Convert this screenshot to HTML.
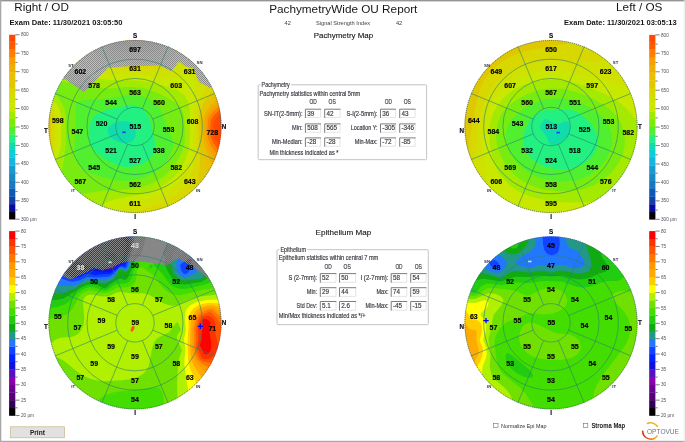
<!DOCTYPE html><html><head><meta charset="utf-8"><title>PachymetryWide OU Report</title><style>html,body{margin:0;padding:0;background:#fff;width:685px;height:442px;overflow:hidden}svg{display:block}.st text{stroke:#383840;stroke-width:0.16}</style></head><body>
<svg width="685" height="442" viewBox="0 0 685 442">
<defs><clipPath id="clip"><circle r="86.50"/></clipPath>
<mask id="cmask" maskUnits="userSpaceOnUse" x="-100" y="-100" width="200" height="200"><circle r="86.50" fill="#fff"/></mask>
<clipPath id="clip_tl"><circle cx="135" cy="126.5" r="86.50"/></clipPath>
<clipPath id="clip_tr"><circle cx="551" cy="126.5" r="86.50"/></clipPath>
<clipPath id="clip_bl"><circle cx="135" cy="322.8" r="86.50"/></clipPath>
<clipPath id="clip_br"><circle cx="551" cy="322.8" r="86.50"/></clipPath>
<pattern id="hd" width="2" height="2" patternUnits="userSpaceOnUse"><rect width="1" height="1" fill="#8a8a8a"/><rect x="1" y="1" width="1" height="1" fill="#8a8a8a"/></pattern>
<pattern id="hl" width="2" height="2" patternUnits="userSpaceOnUse"><rect width="1" height="1" fill="#b0b0b0" fill-opacity="0.7"/><rect x="1" y="1" width="1" height="1" fill="#b0b0b0" fill-opacity="0.7"/></pattern>
</defs>
<rect width="685" height="442" fill="#fff"/>
<rect x="0" y="0" width="685" height="1.4" fill="#959595"/>
<rect x="0" y="0" width="1.3" height="442" fill="#a8a8a8"/>
<rect x="0" y="440.8" width="685" height="1.2" fill="#a8a8a8"/>
<rect x="683.8" y="0" width="0.8" height="442" fill="#e4e4e4"/>
<g font-family="'Liberation Sans', Arial, sans-serif" fill="#151515">
<text x="14.3" y="10.9" font-size="11.8" textLength="54.6" lengthAdjust="spacingAndGlyphs">Right / OD</text>
<text x="616.1" y="10.9" font-size="11.8" textLength="46.3" lengthAdjust="spacingAndGlyphs">Left / OS</text>
<text x="269.2" y="13.4" font-size="11.8" textLength="148.2" lengthAdjust="spacingAndGlyphs">PachymetryWide OU Report</text>
<text x="9.6" y="24.8" font-size="7.1" font-weight="bold" textLength="112.8" lengthAdjust="spacingAndGlyphs">Exam Date: 11/30/2021 03:05:50</text>
<text x="564" y="24.8" font-size="7.1" font-weight="bold" textLength="112.6" lengthAdjust="spacingAndGlyphs">Exam Date: 11/30/2021 03:05:13</text>
<g font-size="5.6" fill="#404040"><text x="287.7" y="24.7" text-anchor="middle">42</text><text x="316" y="24.7" textLength="54.2" lengthAdjust="spacingAndGlyphs">Signal Strength Index</text><text x="399" y="24.7" text-anchor="middle">42</text></g>
<text x="313.7" y="38.4" font-size="8" stroke="#151515" stroke-width="0.12" textLength="59.5" lengthAdjust="spacingAndGlyphs">Pachymetry Map</text>
<text x="315.6" y="235.1" font-size="8" stroke="#151515" stroke-width="0.12" textLength="55.6" lengthAdjust="spacingAndGlyphs">Epithelium Map</text>
</g>
<g>
<rect x="9.10" y="211.82" width="6.2" height="7.68" fill="#000000"/>
<rect x="9.10" y="204.08" width="6.2" height="8.05" fill="#0a0aa0"/>
<rect x="9.10" y="196.33" width="6.2" height="8.05" fill="#1040a8"/>
<rect x="9.10" y="188.58" width="6.2" height="8.05" fill="#1058b8"/>
<rect x="9.10" y="180.83" width="6.2" height="8.05" fill="#1878c0"/>
<rect x="9.10" y="173.09" width="6.2" height="8.05" fill="#1a88c8"/>
<rect x="9.10" y="165.34" width="6.2" height="8.05" fill="#1a9ad0"/>
<rect x="9.10" y="157.59" width="6.2" height="8.05" fill="#1ab4e0"/>
<rect x="9.10" y="149.85" width="6.2" height="8.05" fill="#11ccdd"/>
<rect x="9.10" y="142.10" width="6.2" height="8.05" fill="#11ddaa"/>
<rect x="9.10" y="134.35" width="6.2" height="8.05" fill="#22f080"/>
<rect x="9.10" y="126.61" width="6.2" height="8.05" fill="#50f030"/>
<rect x="9.10" y="118.86" width="6.2" height="8.05" fill="#78ec10"/>
<rect x="9.10" y="111.11" width="6.2" height="8.05" fill="#a4ea00"/>
<rect x="9.10" y="103.37" width="6.2" height="8.05" fill="#c8e800"/>
<rect x="9.10" y="95.62" width="6.2" height="8.05" fill="#d0e000"/>
<rect x="9.10" y="87.87" width="6.2" height="8.05" fill="#d8d800"/>
<rect x="9.10" y="80.12" width="6.2" height="8.05" fill="#e0c800"/>
<rect x="9.10" y="72.38" width="6.2" height="8.05" fill="#e8c000"/>
<rect x="9.10" y="64.63" width="6.2" height="8.05" fill="#eeb000"/>
<rect x="9.10" y="56.88" width="6.2" height="8.05" fill="#f5a000"/>
<rect x="9.10" y="49.14" width="6.2" height="8.05" fill="#ff8000"/>
<rect x="9.10" y="41.39" width="6.2" height="8.05" fill="#ff5a00"/>
<rect x="9.10" y="34.75" width="6.2" height="6.94" fill="#ff4800"/>
<line x1="15.30" y1="34.75" x2="19.60" y2="34.75" stroke="#606060" stroke-width="0.8"/>
<text x="20.90" y="36.35" font-family="'Liberation Sans', Arial, sans-serif" font-size="4.7" fill="#505060">800</text>
<line x1="15.30" y1="43.97" x2="17.60" y2="43.97" stroke="#606060" stroke-width="0.8"/>
<line x1="15.30" y1="53.20" x2="19.60" y2="53.20" stroke="#606060" stroke-width="0.8"/>
<text x="20.90" y="54.80" font-family="'Liberation Sans', Arial, sans-serif" font-size="4.7" fill="#505060">750</text>
<line x1="15.30" y1="62.42" x2="17.60" y2="62.42" stroke="#606060" stroke-width="0.8"/>
<line x1="15.30" y1="71.64" x2="19.60" y2="71.64" stroke="#606060" stroke-width="0.8"/>
<text x="20.90" y="73.24" font-family="'Liberation Sans', Arial, sans-serif" font-size="4.7" fill="#505060">700</text>
<line x1="15.30" y1="80.86" x2="17.60" y2="80.86" stroke="#606060" stroke-width="0.8"/>
<line x1="15.30" y1="90.08" x2="19.60" y2="90.08" stroke="#606060" stroke-width="0.8"/>
<text x="20.90" y="91.68" font-family="'Liberation Sans', Arial, sans-serif" font-size="4.7" fill="#505060">650</text>
<line x1="15.30" y1="99.31" x2="17.60" y2="99.31" stroke="#606060" stroke-width="0.8"/>
<line x1="15.30" y1="108.53" x2="19.60" y2="108.53" stroke="#606060" stroke-width="0.8"/>
<text x="20.90" y="110.13" font-family="'Liberation Sans', Arial, sans-serif" font-size="4.7" fill="#505060">600</text>
<line x1="15.30" y1="117.75" x2="17.60" y2="117.75" stroke="#606060" stroke-width="0.8"/>
<line x1="15.30" y1="126.97" x2="19.60" y2="126.97" stroke="#606060" stroke-width="0.8"/>
<text x="20.90" y="128.57" font-family="'Liberation Sans', Arial, sans-serif" font-size="4.7" fill="#505060">550</text>
<line x1="15.30" y1="136.20" x2="17.60" y2="136.20" stroke="#606060" stroke-width="0.8"/>
<line x1="15.30" y1="145.42" x2="19.60" y2="145.42" stroke="#606060" stroke-width="0.8"/>
<text x="20.90" y="147.02" font-family="'Liberation Sans', Arial, sans-serif" font-size="4.7" fill="#505060">500</text>
<line x1="15.30" y1="154.64" x2="17.60" y2="154.64" stroke="#606060" stroke-width="0.8"/>
<line x1="15.30" y1="163.86" x2="19.60" y2="163.86" stroke="#606060" stroke-width="0.8"/>
<text x="20.90" y="165.46" font-family="'Liberation Sans', Arial, sans-serif" font-size="4.7" fill="#505060">450</text>
<line x1="15.30" y1="173.09" x2="17.60" y2="173.09" stroke="#606060" stroke-width="0.8"/>
<line x1="15.30" y1="182.31" x2="19.60" y2="182.31" stroke="#606060" stroke-width="0.8"/>
<text x="20.90" y="183.91" font-family="'Liberation Sans', Arial, sans-serif" font-size="4.7" fill="#505060">400</text>
<line x1="15.30" y1="191.53" x2="17.60" y2="191.53" stroke="#606060" stroke-width="0.8"/>
<line x1="15.30" y1="200.75" x2="19.60" y2="200.75" stroke="#606060" stroke-width="0.8"/>
<text x="20.90" y="202.35" font-family="'Liberation Sans', Arial, sans-serif" font-size="4.7" fill="#505060">350</text>
<line x1="15.30" y1="209.98" x2="17.60" y2="209.98" stroke="#606060" stroke-width="0.8"/>
<line x1="15.30" y1="219.20" x2="19.60" y2="219.20" stroke="#606060" stroke-width="0.8"/>
<text x="20.90" y="220.80" font-family="'Liberation Sans', Arial, sans-serif" font-size="4.7" fill="#505060">300 µm</text>
</g>
<g>
<rect x="649.20" y="211.92" width="6.2" height="7.68" fill="#000000"/>
<rect x="649.20" y="204.18" width="6.2" height="8.04" fill="#0a0aa0"/>
<rect x="649.20" y="196.43" width="6.2" height="8.04" fill="#1040a8"/>
<rect x="649.20" y="188.69" width="6.2" height="8.04" fill="#1058b8"/>
<rect x="649.20" y="180.94" width="6.2" height="8.04" fill="#1878c0"/>
<rect x="649.20" y="173.20" width="6.2" height="8.04" fill="#1a88c8"/>
<rect x="649.20" y="165.46" width="6.2" height="8.04" fill="#1a9ad0"/>
<rect x="649.20" y="157.71" width="6.2" height="8.04" fill="#1ab4e0"/>
<rect x="649.20" y="149.97" width="6.2" height="8.04" fill="#11ccdd"/>
<rect x="649.20" y="142.22" width="6.2" height="8.04" fill="#11ddaa"/>
<rect x="649.20" y="134.48" width="6.2" height="8.04" fill="#22f080"/>
<rect x="649.20" y="126.73" width="6.2" height="8.04" fill="#50f030"/>
<rect x="649.20" y="118.99" width="6.2" height="8.04" fill="#78ec10"/>
<rect x="649.20" y="111.24" width="6.2" height="8.04" fill="#a4ea00"/>
<rect x="649.20" y="103.50" width="6.2" height="8.04" fill="#c8e800"/>
<rect x="649.20" y="95.75" width="6.2" height="8.04" fill="#d0e000"/>
<rect x="649.20" y="88.01" width="6.2" height="8.04" fill="#d8d800"/>
<rect x="649.20" y="80.26" width="6.2" height="8.04" fill="#e0c800"/>
<rect x="649.20" y="72.52" width="6.2" height="8.04" fill="#e8c000"/>
<rect x="649.20" y="64.77" width="6.2" height="8.04" fill="#eeb000"/>
<rect x="649.20" y="57.03" width="6.2" height="8.04" fill="#f5a000"/>
<rect x="649.20" y="49.28" width="6.2" height="8.04" fill="#ff8000"/>
<rect x="649.20" y="41.54" width="6.2" height="8.04" fill="#ff5a00"/>
<rect x="649.20" y="34.90" width="6.2" height="6.94" fill="#ff4800"/>
<line x1="655.40" y1="34.90" x2="659.70" y2="34.90" stroke="#606060" stroke-width="0.8"/>
<text x="661.00" y="36.50" font-family="'Liberation Sans', Arial, sans-serif" font-size="4.7" fill="#505060">800</text>
<line x1="655.40" y1="44.12" x2="657.70" y2="44.12" stroke="#606060" stroke-width="0.8"/>
<line x1="655.40" y1="53.34" x2="659.70" y2="53.34" stroke="#606060" stroke-width="0.8"/>
<text x="661.00" y="54.94" font-family="'Liberation Sans', Arial, sans-serif" font-size="4.7" fill="#505060">750</text>
<line x1="655.40" y1="62.56" x2="657.70" y2="62.56" stroke="#606060" stroke-width="0.8"/>
<line x1="655.40" y1="71.78" x2="659.70" y2="71.78" stroke="#606060" stroke-width="0.8"/>
<text x="661.00" y="73.38" font-family="'Liberation Sans', Arial, sans-serif" font-size="4.7" fill="#505060">700</text>
<line x1="655.40" y1="81.00" x2="657.70" y2="81.00" stroke="#606060" stroke-width="0.8"/>
<line x1="655.40" y1="90.22" x2="659.70" y2="90.22" stroke="#606060" stroke-width="0.8"/>
<text x="661.00" y="91.82" font-family="'Liberation Sans', Arial, sans-serif" font-size="4.7" fill="#505060">650</text>
<line x1="655.40" y1="99.44" x2="657.70" y2="99.44" stroke="#606060" stroke-width="0.8"/>
<line x1="655.40" y1="108.66" x2="659.70" y2="108.66" stroke="#606060" stroke-width="0.8"/>
<text x="661.00" y="110.26" font-family="'Liberation Sans', Arial, sans-serif" font-size="4.7" fill="#505060">600</text>
<line x1="655.40" y1="117.88" x2="657.70" y2="117.88" stroke="#606060" stroke-width="0.8"/>
<line x1="655.40" y1="127.10" x2="659.70" y2="127.10" stroke="#606060" stroke-width="0.8"/>
<text x="661.00" y="128.70" font-family="'Liberation Sans', Arial, sans-serif" font-size="4.7" fill="#505060">550</text>
<line x1="655.40" y1="136.32" x2="657.70" y2="136.32" stroke="#606060" stroke-width="0.8"/>
<line x1="655.40" y1="145.54" x2="659.70" y2="145.54" stroke="#606060" stroke-width="0.8"/>
<text x="661.00" y="147.14" font-family="'Liberation Sans', Arial, sans-serif" font-size="4.7" fill="#505060">500</text>
<line x1="655.40" y1="154.76" x2="657.70" y2="154.76" stroke="#606060" stroke-width="0.8"/>
<line x1="655.40" y1="163.98" x2="659.70" y2="163.98" stroke="#606060" stroke-width="0.8"/>
<text x="661.00" y="165.58" font-family="'Liberation Sans', Arial, sans-serif" font-size="4.7" fill="#505060">450</text>
<line x1="655.40" y1="173.20" x2="657.70" y2="173.20" stroke="#606060" stroke-width="0.8"/>
<line x1="655.40" y1="182.42" x2="659.70" y2="182.42" stroke="#606060" stroke-width="0.8"/>
<text x="661.00" y="184.02" font-family="'Liberation Sans', Arial, sans-serif" font-size="4.7" fill="#505060">400</text>
<line x1="655.40" y1="191.64" x2="657.70" y2="191.64" stroke="#606060" stroke-width="0.8"/>
<line x1="655.40" y1="200.86" x2="659.70" y2="200.86" stroke="#606060" stroke-width="0.8"/>
<text x="661.00" y="202.46" font-family="'Liberation Sans', Arial, sans-serif" font-size="4.7" fill="#505060">350</text>
<line x1="655.40" y1="210.08" x2="657.70" y2="210.08" stroke="#606060" stroke-width="0.8"/>
<line x1="655.40" y1="219.30" x2="659.70" y2="219.30" stroke="#606060" stroke-width="0.8"/>
<text x="661.00" y="220.90" font-family="'Liberation Sans', Arial, sans-serif" font-size="4.7" fill="#505060">300 µm</text>
</g>
<g>
<rect x="9.10" y="407.82" width="6.2" height="7.98" fill="#000000"/>
<rect x="9.10" y="400.13" width="6.2" height="7.98" fill="#330055"/>
<rect x="9.10" y="392.45" width="6.2" height="7.98" fill="#550077"/>
<rect x="9.10" y="384.77" width="6.2" height="7.98" fill="#6a0090"/>
<rect x="9.10" y="377.08" width="6.2" height="7.98" fill="#8800aa"/>
<rect x="9.10" y="369.40" width="6.2" height="7.98" fill="#5511bb"/>
<rect x="9.10" y="361.72" width="6.2" height="7.98" fill="#1111dd"/>
<rect x="9.10" y="354.03" width="6.2" height="7.98" fill="#0022ff"/>
<rect x="9.10" y="346.35" width="6.2" height="7.98" fill="#1144ff"/>
<rect x="9.10" y="338.67" width="6.2" height="7.98" fill="#2277ff"/>
<rect x="9.10" y="330.98" width="6.2" height="7.98" fill="#229988"/>
<rect x="9.10" y="323.30" width="6.2" height="7.98" fill="#11aa11"/>
<rect x="9.10" y="315.62" width="6.2" height="7.98" fill="#22cc11"/>
<rect x="9.10" y="307.93" width="6.2" height="7.98" fill="#44dd00"/>
<rect x="9.10" y="300.25" width="6.2" height="7.98" fill="#70e000"/>
<rect x="9.10" y="292.57" width="6.2" height="7.98" fill="#b0f000"/>
<rect x="9.10" y="284.88" width="6.2" height="7.98" fill="#ffff00"/>
<rect x="9.10" y="277.20" width="6.2" height="7.98" fill="#ffcc00"/>
<rect x="9.10" y="269.52" width="6.2" height="7.98" fill="#ffaa00"/>
<rect x="9.10" y="261.83" width="6.2" height="7.98" fill="#ff9900"/>
<rect x="9.10" y="254.15" width="6.2" height="7.98" fill="#ff7700"/>
<rect x="9.10" y="246.47" width="6.2" height="7.98" fill="#ff5500"/>
<rect x="9.10" y="238.78" width="6.2" height="7.98" fill="#ff3300"/>
<rect x="9.10" y="231.10" width="6.2" height="7.98" fill="#ff0000"/>
<line x1="15.30" y1="231.10" x2="19.60" y2="231.10" stroke="#606060" stroke-width="0.8"/>
<text x="20.90" y="232.70" font-family="'Liberation Sans', Arial, sans-serif" font-size="4.7" fill="#505060">80</text>
<line x1="15.30" y1="238.78" x2="17.60" y2="238.78" stroke="#606060" stroke-width="0.8"/>
<line x1="15.30" y1="246.47" x2="19.60" y2="246.47" stroke="#606060" stroke-width="0.8"/>
<text x="20.90" y="248.07" font-family="'Liberation Sans', Arial, sans-serif" font-size="4.7" fill="#505060">75</text>
<line x1="15.30" y1="254.15" x2="17.60" y2="254.15" stroke="#606060" stroke-width="0.8"/>
<line x1="15.30" y1="261.83" x2="19.60" y2="261.83" stroke="#606060" stroke-width="0.8"/>
<text x="20.90" y="263.43" font-family="'Liberation Sans', Arial, sans-serif" font-size="4.7" fill="#505060">70</text>
<line x1="15.30" y1="269.52" x2="17.60" y2="269.52" stroke="#606060" stroke-width="0.8"/>
<line x1="15.30" y1="277.20" x2="19.60" y2="277.20" stroke="#606060" stroke-width="0.8"/>
<text x="20.90" y="278.80" font-family="'Liberation Sans', Arial, sans-serif" font-size="4.7" fill="#505060">65</text>
<line x1="15.30" y1="284.88" x2="17.60" y2="284.88" stroke="#606060" stroke-width="0.8"/>
<line x1="15.30" y1="292.57" x2="19.60" y2="292.57" stroke="#606060" stroke-width="0.8"/>
<text x="20.90" y="294.17" font-family="'Liberation Sans', Arial, sans-serif" font-size="4.7" fill="#505060">60</text>
<line x1="15.30" y1="300.25" x2="17.60" y2="300.25" stroke="#606060" stroke-width="0.8"/>
<line x1="15.30" y1="307.93" x2="19.60" y2="307.93" stroke="#606060" stroke-width="0.8"/>
<text x="20.90" y="309.53" font-family="'Liberation Sans', Arial, sans-serif" font-size="4.7" fill="#505060">55</text>
<line x1="15.30" y1="315.62" x2="17.60" y2="315.62" stroke="#606060" stroke-width="0.8"/>
<line x1="15.30" y1="323.30" x2="19.60" y2="323.30" stroke="#606060" stroke-width="0.8"/>
<text x="20.90" y="324.90" font-family="'Liberation Sans', Arial, sans-serif" font-size="4.7" fill="#505060">50</text>
<line x1="15.30" y1="330.98" x2="17.60" y2="330.98" stroke="#606060" stroke-width="0.8"/>
<line x1="15.30" y1="338.67" x2="19.60" y2="338.67" stroke="#606060" stroke-width="0.8"/>
<text x="20.90" y="340.27" font-family="'Liberation Sans', Arial, sans-serif" font-size="4.7" fill="#505060">45</text>
<line x1="15.30" y1="346.35" x2="17.60" y2="346.35" stroke="#606060" stroke-width="0.8"/>
<line x1="15.30" y1="354.03" x2="19.60" y2="354.03" stroke="#606060" stroke-width="0.8"/>
<text x="20.90" y="355.63" font-family="'Liberation Sans', Arial, sans-serif" font-size="4.7" fill="#505060">40</text>
<line x1="15.30" y1="361.72" x2="17.60" y2="361.72" stroke="#606060" stroke-width="0.8"/>
<line x1="15.30" y1="369.40" x2="19.60" y2="369.40" stroke="#606060" stroke-width="0.8"/>
<text x="20.90" y="371.00" font-family="'Liberation Sans', Arial, sans-serif" font-size="4.7" fill="#505060">35</text>
<line x1="15.30" y1="377.08" x2="17.60" y2="377.08" stroke="#606060" stroke-width="0.8"/>
<line x1="15.30" y1="384.77" x2="19.60" y2="384.77" stroke="#606060" stroke-width="0.8"/>
<text x="20.90" y="386.37" font-family="'Liberation Sans', Arial, sans-serif" font-size="4.7" fill="#505060">30</text>
<line x1="15.30" y1="392.45" x2="17.60" y2="392.45" stroke="#606060" stroke-width="0.8"/>
<line x1="15.30" y1="400.13" x2="19.60" y2="400.13" stroke="#606060" stroke-width="0.8"/>
<text x="20.90" y="401.73" font-family="'Liberation Sans', Arial, sans-serif" font-size="4.7" fill="#505060">25</text>
<line x1="15.30" y1="407.82" x2="17.60" y2="407.82" stroke="#606060" stroke-width="0.8"/>
<line x1="15.30" y1="415.50" x2="19.60" y2="415.50" stroke="#606060" stroke-width="0.8"/>
<text x="20.90" y="417.10" font-family="'Liberation Sans', Arial, sans-serif" font-size="4.7" fill="#505060">20 µm</text>
</g>
<g>
<rect x="649.20" y="407.82" width="6.2" height="7.98" fill="#000000"/>
<rect x="649.20" y="400.13" width="6.2" height="7.98" fill="#330055"/>
<rect x="649.20" y="392.45" width="6.2" height="7.98" fill="#550077"/>
<rect x="649.20" y="384.77" width="6.2" height="7.98" fill="#6a0090"/>
<rect x="649.20" y="377.08" width="6.2" height="7.98" fill="#8800aa"/>
<rect x="649.20" y="369.40" width="6.2" height="7.98" fill="#5511bb"/>
<rect x="649.20" y="361.72" width="6.2" height="7.98" fill="#1111dd"/>
<rect x="649.20" y="354.03" width="6.2" height="7.98" fill="#0022ff"/>
<rect x="649.20" y="346.35" width="6.2" height="7.98" fill="#1144ff"/>
<rect x="649.20" y="338.67" width="6.2" height="7.98" fill="#2277ff"/>
<rect x="649.20" y="330.98" width="6.2" height="7.98" fill="#229988"/>
<rect x="649.20" y="323.30" width="6.2" height="7.98" fill="#11aa11"/>
<rect x="649.20" y="315.62" width="6.2" height="7.98" fill="#22cc11"/>
<rect x="649.20" y="307.93" width="6.2" height="7.98" fill="#44dd00"/>
<rect x="649.20" y="300.25" width="6.2" height="7.98" fill="#70e000"/>
<rect x="649.20" y="292.57" width="6.2" height="7.98" fill="#b0f000"/>
<rect x="649.20" y="284.88" width="6.2" height="7.98" fill="#ffff00"/>
<rect x="649.20" y="277.20" width="6.2" height="7.98" fill="#ffcc00"/>
<rect x="649.20" y="269.52" width="6.2" height="7.98" fill="#ffaa00"/>
<rect x="649.20" y="261.83" width="6.2" height="7.98" fill="#ff9900"/>
<rect x="649.20" y="254.15" width="6.2" height="7.98" fill="#ff7700"/>
<rect x="649.20" y="246.47" width="6.2" height="7.98" fill="#ff5500"/>
<rect x="649.20" y="238.78" width="6.2" height="7.98" fill="#ff3300"/>
<rect x="649.20" y="231.10" width="6.2" height="7.98" fill="#ff0000"/>
<line x1="655.40" y1="231.10" x2="659.70" y2="231.10" stroke="#606060" stroke-width="0.8"/>
<text x="661.00" y="232.70" font-family="'Liberation Sans', Arial, sans-serif" font-size="4.7" fill="#505060">80</text>
<line x1="655.40" y1="238.78" x2="657.70" y2="238.78" stroke="#606060" stroke-width="0.8"/>
<line x1="655.40" y1="246.47" x2="659.70" y2="246.47" stroke="#606060" stroke-width="0.8"/>
<text x="661.00" y="248.07" font-family="'Liberation Sans', Arial, sans-serif" font-size="4.7" fill="#505060">75</text>
<line x1="655.40" y1="254.15" x2="657.70" y2="254.15" stroke="#606060" stroke-width="0.8"/>
<line x1="655.40" y1="261.83" x2="659.70" y2="261.83" stroke="#606060" stroke-width="0.8"/>
<text x="661.00" y="263.43" font-family="'Liberation Sans', Arial, sans-serif" font-size="4.7" fill="#505060">70</text>
<line x1="655.40" y1="269.52" x2="657.70" y2="269.52" stroke="#606060" stroke-width="0.8"/>
<line x1="655.40" y1="277.20" x2="659.70" y2="277.20" stroke="#606060" stroke-width="0.8"/>
<text x="661.00" y="278.80" font-family="'Liberation Sans', Arial, sans-serif" font-size="4.7" fill="#505060">65</text>
<line x1="655.40" y1="284.88" x2="657.70" y2="284.88" stroke="#606060" stroke-width="0.8"/>
<line x1="655.40" y1="292.57" x2="659.70" y2="292.57" stroke="#606060" stroke-width="0.8"/>
<text x="661.00" y="294.17" font-family="'Liberation Sans', Arial, sans-serif" font-size="4.7" fill="#505060">60</text>
<line x1="655.40" y1="300.25" x2="657.70" y2="300.25" stroke="#606060" stroke-width="0.8"/>
<line x1="655.40" y1="307.93" x2="659.70" y2="307.93" stroke="#606060" stroke-width="0.8"/>
<text x="661.00" y="309.53" font-family="'Liberation Sans', Arial, sans-serif" font-size="4.7" fill="#505060">55</text>
<line x1="655.40" y1="315.62" x2="657.70" y2="315.62" stroke="#606060" stroke-width="0.8"/>
<line x1="655.40" y1="323.30" x2="659.70" y2="323.30" stroke="#606060" stroke-width="0.8"/>
<text x="661.00" y="324.90" font-family="'Liberation Sans', Arial, sans-serif" font-size="4.7" fill="#505060">50</text>
<line x1="655.40" y1="330.98" x2="657.70" y2="330.98" stroke="#606060" stroke-width="0.8"/>
<line x1="655.40" y1="338.67" x2="659.70" y2="338.67" stroke="#606060" stroke-width="0.8"/>
<text x="661.00" y="340.27" font-family="'Liberation Sans', Arial, sans-serif" font-size="4.7" fill="#505060">45</text>
<line x1="655.40" y1="346.35" x2="657.70" y2="346.35" stroke="#606060" stroke-width="0.8"/>
<line x1="655.40" y1="354.03" x2="659.70" y2="354.03" stroke="#606060" stroke-width="0.8"/>
<text x="661.00" y="355.63" font-family="'Liberation Sans', Arial, sans-serif" font-size="4.7" fill="#505060">40</text>
<line x1="655.40" y1="361.72" x2="657.70" y2="361.72" stroke="#606060" stroke-width="0.8"/>
<line x1="655.40" y1="369.40" x2="659.70" y2="369.40" stroke="#606060" stroke-width="0.8"/>
<text x="661.00" y="371.00" font-family="'Liberation Sans', Arial, sans-serif" font-size="4.7" fill="#505060">35</text>
<line x1="655.40" y1="377.08" x2="657.70" y2="377.08" stroke="#606060" stroke-width="0.8"/>
<line x1="655.40" y1="384.77" x2="659.70" y2="384.77" stroke="#606060" stroke-width="0.8"/>
<text x="661.00" y="386.37" font-family="'Liberation Sans', Arial, sans-serif" font-size="4.7" fill="#505060">30</text>
<line x1="655.40" y1="392.45" x2="657.70" y2="392.45" stroke="#606060" stroke-width="0.8"/>
<line x1="655.40" y1="400.13" x2="659.70" y2="400.13" stroke="#606060" stroke-width="0.8"/>
<text x="661.00" y="401.73" font-family="'Liberation Sans', Arial, sans-serif" font-size="4.7" fill="#505060">25</text>
<line x1="655.40" y1="407.82" x2="657.70" y2="407.82" stroke="#606060" stroke-width="0.8"/>
<line x1="655.40" y1="415.50" x2="659.70" y2="415.50" stroke="#606060" stroke-width="0.8"/>
<text x="661.00" y="417.10" font-family="'Liberation Sans', Arial, sans-serif" font-size="4.7" fill="#505060">20 µm</text>
</g>
<g transform="translate(135 126.5)">
<g mask="url(#cmask)"><circle r="87.5" fill="#11ddaa"/>
<path fill="#22f080" fill-rule="evenodd" d="M-89.5 -89.5 89.5 -89.5 89.5 89.5 -89.5 89.5 -89.5 -89.5ZM-13 -5.5 -19 -4.2 -23.7 -2 -26.6 1 -27.5 4.5 -26.5 8 -23.5 11.5 -19 14.3 -13.5 16.2 -7.5 16.6 -3.2 15 -0.1 11.5 1 6.5 -0.1 1 -3 -3.1 -7.5 -5.3 -13 -5.5Z"/>
<path fill="#50f030" fill-rule="evenodd" d="M-89.5 -89.5 89.5 -89.5 89.5 89.5 -89.5 89.5 -89.5 -89.5ZM-8 -21 -28.5 -16.4 -37.4 -13 -40.7 -10.5 -43.1 -7.5 -44.9 -3.5 -46 1 -46.2 7 -45.3 13.5 -43.4 19 -40.4 24 -36.6 28 -31.5 31.7 -24 35.7 -16.5 38.8 -10.5 40.2 -4.5 40.4 1.5 39.5 7 37.6 12 34.6 16 30.9 18.7 26.5 20 22 19.8 15 15.9 -2 14.1 -8.5 11.8 -13 8.3 -17 3.5 -19.8 -2 -21.2 -8 -21Z"/>
<path fill="#78ec10" fill-rule="evenodd" d="M-89.5 -89.5 89.5 -89.5 89.5 89.5 -89.5 89.5 -89.5 -89.5ZM-6 -31.5 -28 -27.9 -53.9 -26 -58 -24.5 -59.2 -23 -59.7 -21 -59.4 -8.5 -60.7 23.5 -59.5 30.5 -57 36.4 -51.9 42.5 -44.5 47 -32.2 51 -17 54.1 -7.5 54.4 2 53.2 11 50.5 18.5 46.7 25.9 41 31.7 34.5 36.1 27 38.3 19.5 38.3 15.5 37.3 11.5 31.2 -0.5 27 -14.5 23.5 -20 17.5 -25.3 10 -29.3 2.5 -31.2 -6 -31.5Z"/>
<path fill="#a4ea00" fill-rule="evenodd" d="M-89.5 -89.5 89.5 -89.5 89.5 89.5 -89.5 89.5 -89.5 15 -89.5 -35 -85 -36.4 -82 -35.3 -78 -30.9 -72.9 -22.5 -70.2 -16 -69 -10 -69.2 16.5 -71.1 33.5 -75.4 54.5 -75.8 60.5 -74.7 64 -72 66.7 -67.5 68.3 -61.5 68.6 -32.5 64.5 -11 63.2 -1 62.1 10.5 59.4 20.5 55.2 26.7 51.5 32.3 47 37.1 42 41.5 36.1 45.2 29.5 48 22.5 49.5 16.5 50 10 48.9 -10 48 -14.5 46.5 -17.7 43.1 -21.5 38 -25.4 30.1 -30 21.8 -34 11.5 -37.6 1.5 -39.4 -7.5 -39.5 -26 -38 -38 -38.9 -64 -43.8 -80.5 -45.2 -84 -46.5 -89.5 -49.9 -89.5 -89.5Z"/>
<path fill="#c8e800" fill-rule="evenodd" d="M-89.5 -89.5 89.5 -89.5 89.5 89.5 -8 89.5 -42.1 89.5 -41.4 88 -39.1 84.5 -36 81.1 -28.5 75.9 -20 72.8 5.5 67.7 19 63.5 25.5 60.4 31.7 56.5 37.2 52 42 47 46.5 40.7 50 34 52.7 26.5 54.3 19.5 54.8 11.5 54.9 -15.5 54.2 -21.5 52.5 -26.4 49.6 -31 46 -34.2 41 -36.7 33.5 -39.2 17 -43.6 6.5 -45.5 -3.5 -46.2 -25 -46.2 -39 -48.3 -55.9 -53.5 -81.5 -64.8 -89.5 -67.6 -89.5 -89.5ZM-89.5 -28 -89.5 -28.5 -88.5 -28.4 -85 -27.5 -80 -23.8 -76.1 -18.5 -74.1 -12.5 -73.6 -5.5 -74.1 20 -76.2 28 -80 35 -84.5 39.4 -89.5 41.3 -89.5 -28Z"/>
<path fill="#d0e000" fill-rule="evenodd" d="M-77.9 -89.5 89.5 -89.5 89.5 89.5 1 89.5 -26 89.5 -23.6 87 -18.5 83.1 -13 80.4 17.5 71.3 25 68.3 32 64.5 39 59.5 45 53.6 49.8 47 53.4 40 56.5 30.3 58.1 20 58.3 -5 60.4 -39.5 60.2 -44 59.3 -47.5 57 -50.2 53.5 -51.4 49.5 -51.3 37 -49.3 29 -49.2 4 -51.8 -22.5 -52.9 -30 -54 -37.5 -55.8 -44.5 -58.4 -51 -61.5 -62.7 -69.5 -68.1 -74.5 -72.8 -80 -76.1 -85 -77.9 -89.5ZM-89.5 -24.5 -85.5 -23 -81.5 -19.8 -78.7 -16 -77.6 -12 -77.7 19.5 -79.3 24.5 -82.5 29.5 -86 32.8 -89.5 34.5 -89.5 -24.5Z"/>
<path fill="#d8d800" fill-rule="evenodd" d="M-61.4 -89.5 63.8 -89.5 63.1 -84 60.8 -79 57.1 -74.5 51.3 -69.5 43.5 -64 37.5 -60.6 32 -58.4 26.5 -57.2 14.5 -56.9 -14.5 -58.2 -24.5 -59.3 -31.5 -61 -37.5 -63.2 -43.5 -66.4 -48.5 -70 -53.2 -74.5 -56.8 -79 -59.6 -84 -61.4 -89.5ZM84.4 -49.5 89.5 -49.8 89.5 89.5 -4.5 89.5 -9.3 89.5 -4.2 87 23.5 77.7 35.5 72.1 45 64.8 49 60.5 52.5 55.7 57.5 45.3 60.4 33.5 61.3 23 61.2 -6.5 62.4 -15.5 64.9 -25.5 68.1 -33.5 73 -41.1 78.5 -46.6 84.4 -49.5ZM-89.5 -21.5 -86.2 -19.5 -83.1 -16.5 -81.5 -14 -80.9 -11.5 -80.5 2.5 -81.1 19 -82 21.7 -84.5 25.5 -89.5 29.8 -89.5 -21.5Z"/>
<path fill="#e0c800" fill-rule="evenodd" d="M-51.5 -89.5 50 -89.5 48.9 -85 47.1 -81 44 -76.7 40 -72.6 35.5 -69 30.5 -66.1 25.5 -64.2 20.5 -63.2 12 -62.8 -6 -63.3 -22 -64.6 -32 -67.7 -40.5 -73 -44.2 -76.5 -47.3 -80.5 -49.9 -85 -51.5 -89.5ZM87.3 -40 89.5 -40.2 89.5 89.5 25 89.5 37 85.9 45.5 81.2 53 74.1 58.7 65 62.6 54 64.6 41.5 64.9 30 63.6 11.5 63.4 0.5 63.8 -7.5 65.1 -14.5 68.7 -24 74 -31.9 80.5 -37.4 84 -39.1 87.3 -40ZM-89.5 -18 -86.6 -15.5 -84.8 -12 -83.6 0.5 -84.9 17.5 -86.8 22.5 -89.5 25.7 -89.5 -18Z"/>
<path fill="#e8c000" fill-rule="evenodd" d="M-44 -89.5 42 -89.5 39 -82.5 34.1 -76.5 30.5 -73.5 26.5 -71.2 22.5 -69.7 18 -68.8 0.5 -68.5 -19.5 -69.6 -27.5 -71.9 -34.2 -76 -39.9 -82 -44 -89.5ZM87.3 -34 89.5 -34.4 89.5 89.5 82.6 89.5 82.1 84.5 80.1 77.5 73.5 54.8 66.9 19.5 65.8 9.5 65.8 -4.5 66.4 -9.5 67.7 -14 69.9 -19 72.5 -23.1 76 -27.3 79.5 -30.3 83.5 -32.6 87.3 -34ZM-89.5 -14 -87.9 -9.5 -86.6 2 -88.8 18 -89.5 20.3 -89.5 -14Z"/>
<path fill="#eeb000" fill-rule="evenodd" d="M-37.5 -89.5 35.8 -89.5 33.3 -85 29.6 -80.5 23.5 -76.1 17 -74.5 0.5 -74.1 -18.5 -74.9 -24 -76.3 -29 -79.3 -33.8 -84 -37.5 -89.5ZM87.7 -29.5 89.5 -30 89.5 52.9 84 48.9 79.5 43.4 74 32.4 69 16.6 68 8.5 68.1 -6 70 -13.1 74.5 -20.2 80.7 -26 87.7 -29.5Z"/>
<path fill="#f5a000" fill-rule="evenodd" d="M-31.3 -89.5 30 -89.5 26 -85 21.5 -81.9 16 -80.5 0.5 -80.2 -16 -80.6 -20.5 -81.3 -23.5 -82.6 -28 -85.9 -31.3 -89.5ZM88.9 -26 89.5 -26.2 89.5 41.4 84.5 38 80 33 74.5 23.5 70.8 13.5 70.1 4.5 70.5 -7 72.5 -12.4 77 -18.3 82.5 -22.9 88.9 -26Z"/>
<path fill="#ff8000" fill-rule="evenodd" d="M-23.7 -89.5 22.7 -89.5 21.5 -88.9 18 -87.7 14 -87.2 -13.5 -87.1 -19 -87.7 -23.7 -89.5ZM88.8 -22.5 89.5 -22.8 89.5 34 85.5 31.4 81.2 27 76.5 20 73.2 12.5 72.5 3.5 72.9 -6.5 74.5 -10.5 78.5 -15.4 83.5 -19.6 88.8 -22.5Z"/>
<path fill="#ff5a00" fill-rule="evenodd" d="M89.3 -19.5 89.5 28.4 86 25.9 82.2 22 78.1 16 76 11 75.2 3 75.6 -4.5 76.7 -8 79.6 -12 84 -16.1 89.3 -19.5Z"/>
<path fill="#ff4800" fill-rule="evenodd" d="M88.9 -16 89.5 -16.4 89.5 23.7 84.5 19 81.3 14.5 79.3 10 78.4 4.5 78.6 -1.5 79.5 -5.5 81.5 -9 85.1 -13 88.9 -16Z"/></g>
</g><g clip-path="url(#clip_tl)">
<path d="M50.0 82.0 63.1 78.0 79.4 88.8 84.2 92.2 108.6 67.8 128.0 66.3 148.0 65.8 160.0 65.4 170.9 71.3 174.5 68.1 177.7 62.7 179.5 61.8 184.5 65.9 190.8 68.1 193.5 68.1 195.3 73.5 198.0 79.9 199.9 82.6 210.0 88.0 240.0 60.0 135.0 20.0 30.0 60.0Z" fill="url(#hd)"/>
</g><g transform="translate(135 126.5)">
<g fill="none" stroke="#268072" stroke-width="0.7" stroke-opacity="0.85">
<circle r="19.22"/>
<circle r="48.06"/>
<circle r="67.28"/>
<line x1="7.36" y1="-17.76" x2="33.10" y2="-79.92"/>
<line x1="17.76" y1="-7.36" x2="79.92" y2="-33.10"/>
<line x1="17.76" y1="7.36" x2="79.92" y2="33.10"/>
<line x1="7.36" y1="17.76" x2="33.10" y2="79.92"/>
<line x1="-7.36" y1="17.76" x2="-33.10" y2="79.92"/>
<line x1="-17.76" y1="7.36" x2="-79.92" y2="33.10"/>
<line x1="-17.76" y1="-7.36" x2="-79.92" y2="-33.10"/>
<line x1="-7.36" y1="-17.76" x2="-33.10" y2="-79.92"/>
</g>
<circle r="86.10" fill="none" stroke="#4a6a80" stroke-width="1" stroke-dasharray="1 1.1"/>
<g font-family="'Liberation Sans', Arial, sans-serif" font-weight="bold" font-size="7.3" text-anchor="middle" fill="#000" stroke="#000" stroke-width="0.15">
<text x="0.3" y="2.6" textLength="11.70" lengthAdjust="spacingAndGlyphs">515</text>
<text x="0.0" y="-31.2" textLength="11.70" lengthAdjust="spacingAndGlyphs">563</text>
<text x="24.0" y="-21.3" textLength="11.70" lengthAdjust="spacingAndGlyphs">560</text>
<text x="33.5" y="5.5" textLength="11.70" lengthAdjust="spacingAndGlyphs">553</text>
<text x="23.8" y="26.1" textLength="11.70" lengthAdjust="spacingAndGlyphs">538</text>
<text x="0.0" y="36.6" textLength="11.70" lengthAdjust="spacingAndGlyphs">527</text>
<text x="-23.9" y="26.0" textLength="11.70" lengthAdjust="spacingAndGlyphs">521</text>
<text x="-33.5" y="-0.3" textLength="11.70" lengthAdjust="spacingAndGlyphs">520</text>
<text x="-23.9" y="-21.2" textLength="11.70" lengthAdjust="spacingAndGlyphs">544</text>
<text x="0.0" y="-55.2" textLength="11.70" lengthAdjust="spacingAndGlyphs">631</text>
<text x="41.2" y="-38.4" textLength="11.70" lengthAdjust="spacingAndGlyphs">603</text>
<text x="57.5" y="-2.5" textLength="11.70" lengthAdjust="spacingAndGlyphs">608</text>
<text x="41.3" y="43.6" textLength="11.70" lengthAdjust="spacingAndGlyphs">582</text>
<text x="0.0" y="60.2" textLength="11.70" lengthAdjust="spacingAndGlyphs">562</text>
<text x="-40.8" y="43.5" textLength="11.70" lengthAdjust="spacingAndGlyphs">545</text>
<text x="-57.6" y="7.7" textLength="11.70" lengthAdjust="spacingAndGlyphs">547</text>
<text x="-40.9" y="-38.4" textLength="11.70" lengthAdjust="spacingAndGlyphs">578</text>
<text x="0.0" y="-74.9" textLength="11.70" lengthAdjust="spacingAndGlyphs">697</text>
<text x="54.6" y="-52.6" textLength="11.70" lengthAdjust="spacingAndGlyphs">631</text>
<text x="77.3" y="8.7" textLength="11.70" lengthAdjust="spacingAndGlyphs">728</text>
<text x="54.8" y="57.4" textLength="11.70" lengthAdjust="spacingAndGlyphs">643</text>
<text x="0.0" y="79.6" textLength="11.70" lengthAdjust="spacingAndGlyphs">611</text>
<text x="-54.7" y="57.4" textLength="11.70" lengthAdjust="spacingAndGlyphs">567</text>
<text x="-77.2" y="-3.6" textLength="11.70" lengthAdjust="spacingAndGlyphs">598</text>
<text x="-54.6" y="-52.5" textLength="11.70" lengthAdjust="spacingAndGlyphs">602</text>
</g>
<g font-family="'Liberation Sans', Arial, sans-serif" font-weight="bold" font-size="6.3" text-anchor="middle" fill="#0a0a18" stroke="#0a0a18" stroke-width="0.15">
<text x="0.0" y="-88.9">S</text>
<text x="0.0" y="92.7">I</text>
<text x="89.0" y="2.4">N</text>
<text x="-89.2" y="6.2">T</text>
</g>
<g font-family="'Liberation Sans', Arial, sans-serif" font-weight="bold" font-size="4.3" text-anchor="middle" fill="#303048">
<text x="64.6" y="-62.2">SN</text>
<text x="-64.0" y="-59.8">ST</text>
<text x="63.2" y="65.7">IN</text>
<text x="-61.9" y="65.5">IT</text>
</g>
<path d="M-12.7 5.8h3.4M-12.0 4.8l2 2M-10.0 4.8l-2 2" stroke="#1a30ff" stroke-width="0.95" fill="none"/>
</g>
<g transform="translate(551 126.5)">
<g mask="url(#cmask)"><circle r="87.5" fill="#11ddaa"/>
<path fill="#22f080" fill-rule="evenodd" d="M-89.5 -89.5 89.5 -89.5 89.5 89.5 -89.5 89.5 -89.5 -89.5ZM-5 -7.6 -6.5 -6.8 -9.5 -3.3 -10.8 -1 -11 0.5 -10 2.8 -4.9 9.5 -2 16.5 0.5 18.4 3.5 18.6 6.5 17.5 11.5 14.4 16.3 10.5 18.9 6 19.3 0.5 17.4 -4 16 -5.2 14.5 -5.5 9 -3.1 5 -2.7 2 -3.7 -3.5 -7.2 -5 -7.6Z"/>
<path fill="#50f030" fill-rule="evenodd" d="M-89.5 -89.5 89.5 -89.5 89.5 89.5 -89.5 89.5 -89.5 -89.5ZM-5 -16.5 -10.5 -15.1 -15.5 -12.1 -20.1 -7.5 -23.6 -2 -26.4 5 -27.9 12 -27.6 18 -25.9 23.5 -22.8 28.5 -18.5 33 -12.8 37 -6.4 40 0.5 41.9 8 42.9 15.5 42.8 23 41.5 29.5 39.1 35 35.8 39.8 31.5 43.4 26.5 45.8 21 46.8 15 46.3 9.5 44.3 4 40.6 -2 35.7 -7.5 30 -12.2 24.5 -15.2 20.5 -16.4 16.5 -16.9 6 -16.2 -5 -16.5Z"/>
<path fill="#78ec10" fill-rule="evenodd" d="M-89.5 -89.5 89.5 -89.5 89.5 89.5 -89.5 89.5 -89.5 -89.5ZM2 -28 -7.5 -26.9 -16.5 -24 -25 -19.5 -33.6 -13 -39.2 -7 -43.1 -0.5 -45 6.5 -44.9 14 -42.5 22.5 -38 31 -32 38.5 -24.5 44.8 -16.3 49.5 -7 52.8 3.5 54.8 14 55.1 24.5 53.9 33.5 51.1 41.5 46.9 48.8 41 54.8 33.5 58.9 25.5 61 17 60.9 8.5 58.6 0.5 54.3 -6.5 48.2 -12.5 38.9 -19 30 -23.7 21.5 -26.6 12.5 -28 2 -28Z"/>
<path fill="#a4ea00" fill-rule="evenodd" d="M-89.5 -89.5 89.5 -89.5 89.5 89.5 -89.5 89.5 -89.5 -89.5ZM-0.5 -38 -12 -36.4 -24 -32.4 -35 -26.5 -44.5 -18.8 -50 -11.8 -53.5 -3.5 -55.1 6.5 -54.5 16.5 -51 27.7 -45.2 38.5 -38.2 47 -29.6 54 -19.5 59.3 -8 62.9 5.5 64.8 19 64.8 31 63 42 59.2 51.5 53.9 60.1 46.5 67 37.5 71.9 27.5 74 17.5 73.5 7.5 70.7 -1.5 66.2 -9.5 60.5 -16 53 -21.5 37.5 -29.9 25.5 -34.6 12.5 -37.5 -0.5 -38Z"/>
<path fill="#c8e800" fill-rule="evenodd" d="M-89.5 -89.5 89.5 -89.5 89.5 -0.8 77.9 -15.5 72.5 -20.8 67 -25.2 54.5 -32.2 33.5 -40.8 17.5 -45.3 2.5 -46.9 -5 -46.6 -13 -45.6 -20.5 -43.9 -27.5 -41.6 -34 -38.5 -39.7 -35 -45 -30.8 -50 -25.8 -53.7 -21 -56.6 -16 -59 -10 -60.6 -4 -61.7 3.5 -61.9 11 -61.3 18.5 -59.8 26.5 -57.5 34.5 -54.5 41.7 -51 47.9 -46.8 53.5 -41.2 59 -35 63.5 -27.5 67.4 -19 70.5 -9 73 2.5 74.9 15 75.9 27.5 76.1 39.5 75.5 50.5 74.2 60 72.2 68 69.6 74.5 66.4 80.5 62.1 85 57.5 89.5 51.1 89.5 89.5 -89.5 89.5 -89.5 -89.5Z"/>
<path fill="#d0e000" fill-rule="evenodd" d="M-89.5 -89.5 89.5 -89.5 89.5 -31.4 79.6 -37 68.5 -41.6 57 -45.1 32.5 -51.4 20.5 -53.9 10.5 -55.3 0.5 -55.7 -9.5 -55 -20 -53.4 -28.5 -51 -36.4 -47.5 -43.5 -43 -50.4 -37 -56 -30.3 -60.5 -22.8 -63.9 -14.5 -66.3 -5 -67.6 6 -67.8 17 -67 31.5 -65.6 42.5 -63.7 51.5 -60.8 59.5 -57 66.3 -53 71.4 -48.6 75.5 -43.5 78.9 -38 81.4 -27 84.3 5.7 89.5 -89.5 89.5 -89.5 -89.5Z"/>
<path fill="#d8d800" fill-rule="evenodd" d="M-89.5 -89.5 89.5 -89.5 89.5 -73.6 85 -73.9 79.5 -73.2 58 -67.7 47 -65.8 35 -65.2 10.5 -65.9 -1.5 -65.7 -15 -64.2 -27 -61.5 -38.5 -56.9 -48.5 -50.4 -57 -42 -63.3 -32.5 -67.6 -22.5 -70.9 -10.5 -72.9 1.5 -75.3 25 -77.6 35.5 -79.9 42 -82.5 47.1 -86 51.9 -89.5 55.2 -89.5 -89.5Z"/>
<path fill="#e0c800" fill-rule="evenodd" d="M-89.5 -89.5 30.6 -89.5 24 -85.6 15.5 -82.7 -17 -77.1 -31.5 -73.2 -39.5 -69.9 -46.5 -66.3 -52.5 -62.3 -58.1 -57.5 -62.2 -53 -65.8 -48 -68.8 -42.5 -71.3 -36.5 -75.7 -19.5 -82.1 16 -85.2 24.5 -89.5 31.1 -89.5 -89.5Z"/>
<path fill="#e8c000" fill-rule="evenodd" d="M-89.5 -62 -85.8 -43.5 -84.3 -26.5 -85.3 -9 -88.2 7 -89.5 11.2 -89.5 -62Z"/></g>
<g fill="none" stroke="#268072" stroke-width="0.7" stroke-opacity="0.85">
<circle r="19.22"/>
<circle r="48.06"/>
<circle r="67.28"/>
<line x1="7.36" y1="-17.76" x2="33.10" y2="-79.92"/>
<line x1="17.76" y1="-7.36" x2="79.92" y2="-33.10"/>
<line x1="17.76" y1="7.36" x2="79.92" y2="33.10"/>
<line x1="7.36" y1="17.76" x2="33.10" y2="79.92"/>
<line x1="-7.36" y1="17.76" x2="-33.10" y2="79.92"/>
<line x1="-17.76" y1="7.36" x2="-79.92" y2="33.10"/>
<line x1="-17.76" y1="-7.36" x2="-79.92" y2="-33.10"/>
<line x1="-7.36" y1="-17.76" x2="-33.10" y2="-79.92"/>
</g>
<circle r="86.10" fill="none" stroke="#4a6a80" stroke-width="1" stroke-dasharray="1 1.1"/>
<g font-family="'Liberation Sans', Arial, sans-serif" font-weight="bold" font-size="7.3" text-anchor="middle" fill="#000" stroke="#000" stroke-width="0.15">
<text x="0.3" y="2.6" textLength="11.70" lengthAdjust="spacingAndGlyphs">513</text>
<text x="0.0" y="-31.2" textLength="11.70" lengthAdjust="spacingAndGlyphs">567</text>
<text x="-23.9" y="-21.2" textLength="11.70" lengthAdjust="spacingAndGlyphs">560</text>
<text x="-33.5" y="-0.3" textLength="11.70" lengthAdjust="spacingAndGlyphs">543</text>
<text x="-23.9" y="26.0" textLength="11.70" lengthAdjust="spacingAndGlyphs">532</text>
<text x="0.0" y="36.6" textLength="11.70" lengthAdjust="spacingAndGlyphs">524</text>
<text x="23.8" y="26.1" textLength="11.70" lengthAdjust="spacingAndGlyphs">518</text>
<text x="33.5" y="5.5" textLength="11.70" lengthAdjust="spacingAndGlyphs">525</text>
<text x="24.0" y="-21.3" textLength="11.70" lengthAdjust="spacingAndGlyphs">551</text>
<text x="0.0" y="-55.2" textLength="11.70" lengthAdjust="spacingAndGlyphs">617</text>
<text x="-40.9" y="-38.4" textLength="11.70" lengthAdjust="spacingAndGlyphs">607</text>
<text x="-57.6" y="7.7" textLength="11.70" lengthAdjust="spacingAndGlyphs">584</text>
<text x="-40.8" y="43.5" textLength="11.70" lengthAdjust="spacingAndGlyphs">569</text>
<text x="0.0" y="60.2" textLength="11.70" lengthAdjust="spacingAndGlyphs">558</text>
<text x="41.3" y="43.6" textLength="11.70" lengthAdjust="spacingAndGlyphs">544</text>
<text x="57.5" y="-2.5" textLength="11.70" lengthAdjust="spacingAndGlyphs">553</text>
<text x="41.2" y="-38.4" textLength="11.70" lengthAdjust="spacingAndGlyphs">597</text>
<text x="0.0" y="-74.9" textLength="11.70" lengthAdjust="spacingAndGlyphs">650</text>
<text x="-54.6" y="-52.5" textLength="11.70" lengthAdjust="spacingAndGlyphs">649</text>
<text x="-77.2" y="-3.6" textLength="11.70" lengthAdjust="spacingAndGlyphs">644</text>
<text x="-54.7" y="57.4" textLength="11.70" lengthAdjust="spacingAndGlyphs">606</text>
<text x="0.0" y="79.6" textLength="11.70" lengthAdjust="spacingAndGlyphs">595</text>
<text x="54.8" y="57.4" textLength="11.70" lengthAdjust="spacingAndGlyphs">576</text>
<text x="77.3" y="8.7" textLength="11.70" lengthAdjust="spacingAndGlyphs">582</text>
<text x="54.6" y="-52.6" textLength="11.70" lengthAdjust="spacingAndGlyphs">623</text>
</g>
<g font-family="'Liberation Sans', Arial, sans-serif" font-weight="bold" font-size="6.3" text-anchor="middle" fill="#0a0a18" stroke="#0a0a18" stroke-width="0.15">
<text x="0.0" y="-88.9">S</text>
<text x="0.0" y="92.7">I</text>
<text x="89.0" y="2.4">T</text>
<text x="-89.2" y="6.2">N</text>
</g>
<g font-family="'Liberation Sans', Arial, sans-serif" font-weight="bold" font-size="4.3" text-anchor="middle" fill="#303048">
<text x="64.6" y="-62.2">ST</text>
<text x="-64.0" y="-59.8">SN</text>
<text x="63.2" y="65.7">IT</text>
<text x="-61.9" y="65.5">IN</text>
</g>
<path d="M5.4 6.1h3.4M6.1 5.1l2 2M8.1 5.1l-2 2" stroke="#1a30ff" stroke-width="0.95" fill="none"/>
</g>
<g transform="translate(135 322.8)">
<g mask="url(#cmask)"><circle r="87.5" fill="#6a0090"/>
<path fill="#8800aa" fill-rule="evenodd" d="M-89.5 -89.5 89.5 -89.5 89.5 89.5 -89.5 89.5 -89.5 -89.5ZM-27.5 -70.5 -29 -70 -30.2 -68 -30.2 -66 -28.8 -63 -27.5 -61.4 -26 -60.6 -21.5 -60.9 -18.5 -63.1 -18.3 -69 -20.5 -69.9 -27.5 -70.5Z"/>
<path fill="#5511bb" fill-rule="evenodd" d="M-89.5 -89.5 -43.3 -89.5 -48.2 -76 -48.5 -71.5 -47.5 -67.5 -40.5 -59.5 -34.5 -58.6 -28.5 -56.2 -25.5 -55.7 -21.5 -55.9 -20.5 -56.5 -15.7 -62.5 -12.8 -69 -12.5 -71 -14.5 -75.1 -22.5 -79.7 -30.4 -89.5 89.5 -89.5 89.5 32 89.5 89.5 -89.5 89.5 -89.5 -89.5Z"/>
<path fill="#1111dd" fill-rule="evenodd" d="M-89.5 -89.5 -66.9 -89.5 -65.6 -80.5 -63 -71 -60.5 -65.5 -57.2 -61.5 -53.5 -59.3 -41 -55.6 -26 -53.2 -21.5 -54 -19.6 -55 -17.9 -57.5 -13.5 -62 -10.4 -69.5 -8.5 -80 -14.7 -85 -17.2 -89.5 89.5 -89.5 89.5 44 89.5 89.5 -89.5 89.5 -89.5 -89.5Z"/>
<path fill="#0022ff" fill-rule="evenodd" d="M-9.7 -89.5 89.5 -89.5 89.5 89.5 -20 89.5 -89.5 89.5 -89.5 -74.7 -84.5 -72.8 -79.5 -69.7 -74 -65.1 -63.5 -55.1 -59 -52.6 -55.5 -52 -48 -52.9 -40 -51.4 -34.5 -51.6 -25.5 -50.9 -20 -53.4 -16.5 -57.2 -12 -59.9 -11 -61.5 -5.6 -79.5 -6.1 -82 -9.7 -89.5Z"/>
<path fill="#1144ff" fill-rule="evenodd" d="M-5.3 -89.5 89.5 -89.5 89.5 89.5 -12.5 89.5 -89.5 89.5 -89.5 -58.3 -83 -56.9 -76.5 -54.3 -70.5 -50.9 -64 -45.8 -62 -45 -55.5 -45.3 -50.5 -48.2 -47.5 -48.9 -44.5 -48.8 -40 -47.6 -34.5 -48.6 -25 -48.8 -20 -52.2 -15.5 -56.5 -13.5 -57.1 -10.5 -56.6 -9.5 -57.3 -7.9 -65 -3.6 -78 -3.6 -81.5 -5.3 -89.5Z"/>
<path fill="#2277ff" fill-rule="evenodd" d="M-1.7 -89.5 89.5 -89.5 89.5 89.5 -7.5 89.5 -89.5 89.5 -89.5 -47.7 -78 -45.9 -66.5 -41.7 -62.5 -41 -56 -42.3 -47.5 -45.8 -39.5 -45.3 -27 -46.1 -24.5 -46.8 -21.5 -49 -15.5 -55.3 -13.5 -55.7 -10 -54.6 -8.2 -56 -5.9 -65 -1.6 -77 -1.2 -81 -1.7 -89.5ZM54 -64 46.5 -59.3 45.3 -58 45.2 -56.5 46.1 -52.5 48.5 -49.1 50 -48.6 51.6 -49 53.3 -50.5 54.5 -52.5 56.7 -62 56 -63.6 54 -64Z"/>
<path fill="#229988" fill-rule="evenodd" d="M1.8 -89.5 89.5 -89.5 89.5 89.5 -6 89.5 -89.5 89.5 -89.5 -38.8 -71.5 -37 -62.5 -37 -60 -37.5 -51.5 -41.8 -47.5 -43.2 -30.5 -43.1 -24.5 -44.5 -20.5 -47.6 -16 -54 -14 -54.6 -9.5 -53.2 -8 -53.8 -6.7 -55.5 -4 -64.5 0.6 -76 1.8 -89.5ZM56 -72.5 52 -71.4 45 -67 42.8 -64.5 41.4 -60.5 41.2 -55.5 43 -50 46 -46.9 50 -45.6 54.5 -46.6 61 -50 62.3 -52 64.4 -59.5 64.8 -64.5 63.2 -69 60 -71.8 56 -72.5Z"/>
<path fill="#11aa11" fill-rule="evenodd" d="M5.9 -89.5 48.1 -89.5 44.8 -81.5 37.3 -69 36.6 -60 37.1 -54 39.4 -48.5 43 -44.6 47.5 -42.5 51 -42.3 58.5 -43.6 64.5 -43.6 66.5 -44.5 68.6 -47 74.5 -57.5 79.5 -64.4 84.5 -69.5 89.5 -72.3 89.5 89.5 30 89.5 -89.5 89.5 -89.5 -30.5 -72.5 -29 -66 -32.3 -60 -34.3 -53 -38.6 -48 -40.5 -43.5 -41 -29.5 -39.5 -24.5 -41.7 -20.1 -45 -18.2 -47.5 -16.5 -52 -15.5 -53.3 -13.5 -53.3 -10 -50.9 -8 -51.4 -5 -55 -2 -63.6 2.6 -73 5.9 -89.5Z"/>
<path fill="#22cc11" fill-rule="evenodd" d="M12.2 -89.5 31.9 -89.5 32 -82 31.4 -77.5 30.2 -74 27.8 -70.5 29.4 -65.5 29.9 -58 32.2 -52.5 36.2 -45.5 39 -42.3 42.5 -39.9 46 -38.8 50 -38.4 65.5 -40.8 69.3 -42.5 81 -50.4 89.5 -53.5 89.5 89.5 2 89.5 -89.5 89.5 -89.5 -22.5 -77 -23.1 -71.5 -24.3 -53.5 -35.6 -48 -38 -44 -38.5 -38.5 -37.8 -30 -34.4 -28.6 -35 -24 -39 -16 -44 -14.5 -44.2 -10.5 -42.9 -8.5 -43.5 -6.9 -45.5 0.1 -62 6.4 -69.5 12.2 -89.5ZM-15 -51.5 -14.5 -51.8 -14.1 -51 -14.5 -50.5 -15 -51.5Z"/>
<path fill="#44dd00" fill-rule="evenodd" d="M5.9 -61.5 15 -60.3 18 -60.8 18.8 -57.5 27.7 -48.5 34 -39.6 38.5 -36.1 43.5 -34.2 48 -33.7 53 -34.3 67 -37.6 79.5 -41.9 89.5 -43.7 89.5 89.5 1.5 89.5 -89.5 89.5 -89.5 -14 -78 -15.8 -70.5 -18.3 -66 -21.4 -56.4 -30.5 -52 -33.5 -48.5 -35 -45 -35.7 -41.5 -35.5 -32 -32.5 -29.5 -32.3 -27 -33.3 -21.5 -37.2 -18 -38.9 -15.5 -39.4 -10 -39.4 -7.5 -40.1 -5.4 -41.5 -3.6 -44 -1.6 -52 1.5 -58.4 3.5 -60.6 5.9 -61.5ZM15.5 -58.2 14.5 -57.1 14.2 -55.5 15 -54.4 16.4 -54.5 17.4 -55.5 17.9 -57 17 -58.1 15.5 -58.2Z"/>
<path fill="#70e000" fill-rule="evenodd" d="M5.5 -55.5 8 -55.3 13.5 -50.7 18.5 -47.9 25.9 -37.5 30.5 -32.8 35 -29.9 40 -28.1 44 -27.6 48.5 -28 69 -33.3 89.5 -35.9 89.5 89.5 27.9 89.5 28.7 80 28.6 75 27.2 69.5 25 66 23 64.9 20 64.6 2.5 66.8 -20 69.3 -25.5 70.6 -30.3 72.5 -34.8 75.5 -37.9 79 -40.2 84 -41.5 89.5 -89.5 89.5 -89.5 -3 -74 -6.5 -69.5 -8.1 -66 -10.1 -62 -14.5 -56.2 -26 -53 -29.2 -49 -31.5 -46 -32.4 -43 -32.4 -33 -30.1 -29.5 -29.8 -26 -30.9 -18 -35.1 -8 -35.6 -3.5 -37 -1.5 -38.5 0.3 -41 1.2 -44 2 -51.5 3.5 -54.1 5.5 -55.5Z"/>
<path fill="#b0f000" fill-rule="evenodd" d="M-17.9 -30.5 -13.5 -30.9 -2.5 -29.4 7.5 -29.5 11 -29.1 15 -27.5 29 -19.3 33.5 -17.7 37.5 -17.1 43 -18.1 55.5 -23.7 62.5 -26 89.5 -29.1 89.5 89.5 42.7 89.5 42.1 61 43 43.5 44.1 36 46.9 27.5 42.6 18 41.9 15 42.2 12.5 46.1 7 43 0.3 42 -0.5 41 -0.1 34.5 8.9 24 14.5 21.5 16.5 19.5 19 17.2 25 14 42 12.4 46 9.9 49.5 6.5 52.3 2 54.5 -4 56.1 -12.5 57.4 -31.5 58.4 -39 57.4 -46 55.4 -51.5 53 -56.4 50 -71.5 37.6 -83.7 31.5 -86.2 28.5 -86.5 25.5 -84.9 22 -81.7 18.5 -78.5 16.5 -74.5 15 -64 14.2 -60.5 13.3 -56.5 10.8 -53.8 7.5 -51.7 2.5 -50.7 -4 -52.1 -21.5 -51.3 -24 -49.8 -26 -47 -27.7 -44 -28.2 -32.5 -26.4 -27.5 -26.5 -24.5 -27.3 -17.9 -30.5Z"/>
<path fill="#ffff00" fill-rule="evenodd" d="M87.1 -23.5 89.5 -23.6 89.5 89.5 57 89.5 56.3 83 50.9 54.5 49.4 42 49.4 36.5 50.4 27.5 49 16.5 50.9 7 50 -0.5 50.3 -10.5 51.6 -13.5 54.1 -16.5 57.5 -18.9 61.5 -20.7 71.5 -22.7 87.1 -23.5ZM-23.4 -14.5 -22.5 -14.7 -21.9 -14 -23.4 -14.5Z"/>
<path fill="#ffcc00" fill-rule="evenodd" d="M74.9 -20 89.5 -19 89.5 89.5 75.6 89.5 73.5 83.3 61 59.8 54.8 45 53 37 52.4 18.5 53.4 7.5 53.4 -2.5 54.3 -7.5 55.7 -11 58.6 -14.5 62.5 -17.1 69 -19.2 74.9 -20Z"/>
<path fill="#ffaa00" fill-rule="evenodd" d="M73.4 -17.5 78 -17.3 89.5 -14.6 89.5 69.3 83.5 67.4 77 63.7 72 59.7 67.5 55.2 63 49.5 59 43.3 56 36 55 24 55.5 1 56.3 -3 58 -8 60.3 -11.5 63.5 -14.2 68.5 -16.4 73.4 -17.5Z"/>
<path fill="#ff9900" fill-rule="evenodd" d="M71.7 -15 74.5 -15.5 77 -15.2 89.5 -9.9 89.5 56.1 83.5 55 78 53.2 69.5 48.3 61.5 40.3 58.6 35 57.3 27 57.3 6 58.6 -2.5 60.7 -7.5 63 -10.5 66.5 -12.9 71.7 -15Z"/>
<path fill="#ff7700" fill-rule="evenodd" d="M73.9 -13.5 75.5 -13.5 77.5 -12.7 85.5 -6.6 89.5 -4.3 89.5 46.4 81.5 46.1 76 45.3 69.5 42.8 62.5 37 60.3 32 59 23.5 59.5 16.5 59.2 5.5 61.1 -3.5 63 -7 65.4 -9.5 69 -11.6 73.9 -13.5Z"/>
<path fill="#ff5500" fill-rule="evenodd" d="M74.4 -11 76.5 -10.1 81.2 -5.5 89.5 6.9 89.5 36.5 80.5 39.3 76 40.1 70 39.3 67 38 65 36.4 62.5 31.5 60.8 23 61.4 16 61 6.5 63 -3 64.5 -5.7 66.5 -7.6 74.4 -11Z"/>
<path fill="#ff3300" fill-rule="evenodd" d="M71.6 -7 74 -6.9 76 -6 78.2 -4 79.8 -1.5 80.4 1.5 80.3 10.5 83.1 21.5 82.8 26 81.1 30 77.7 34 74 36 69.5 36.4 66.7 35 64.1 28.5 62.7 23 63.6 15.5 63.1 7 64.7 -2 67 -5.4 71.6 -7Z"/>
<path fill="#ff0000" fill-rule="evenodd" d="M68.5 -3.5 70.5 -3.7 72.7 -3 74.8 -1.5 75.6 0 74.1 6.5 76.2 20.5 76.1 25.5 75.3 28.5 73 31 71 31.6 69 30.8 64.8 22.5 66.6 16.5 66.5 10 67.4 4 67 -1.5 67.5 -2.8 68.5 -3.5Z"/></g>
</g><g clip-path="url(#clip_bl)">
<path d="M55.0 280.0 62.9 276.0 70.4 279.5 86.0 272.7 94.1 268.0 102.3 270.6 111.8 267.2 121.3 263.2 129.4 261.1 138.0 261.1 167.9 265.2 174.6 259.8 178.7 258.4 182.8 261.1 195.0 268.0 201.8 273.3 205.8 277.4 215.0 282.0 240.0 250.0 135.0 215.0 30.0 260.0Z" fill="url(#hd)"/>
</g><g transform="translate(135 322.8)">
<g fill="none" stroke="#268072" stroke-width="0.7" stroke-opacity="0.85">
<circle r="19.22"/>
<circle r="48.06"/>
<circle r="67.28"/>
<line x1="7.36" y1="-17.76" x2="33.10" y2="-79.92"/>
<line x1="17.76" y1="-7.36" x2="79.92" y2="-33.10"/>
<line x1="17.76" y1="7.36" x2="79.92" y2="33.10"/>
<line x1="7.36" y1="17.76" x2="33.10" y2="79.92"/>
<line x1="-7.36" y1="17.76" x2="-33.10" y2="79.92"/>
<line x1="-17.76" y1="7.36" x2="-79.92" y2="33.10"/>
<line x1="-17.76" y1="-7.36" x2="-79.92" y2="-33.10"/>
<line x1="-7.36" y1="-17.76" x2="-33.10" y2="-79.92"/>
</g>
<circle r="86.10" fill="none" stroke="#4a6a80" stroke-width="1" stroke-dasharray="1 1.1"/>
<g font-family="'Liberation Sans', Arial, sans-serif" font-weight="bold" font-size="7.3" text-anchor="middle" fill="#000" stroke="#000" stroke-width="0.15">
<text x="0.3" y="2.6" textLength="7.80" lengthAdjust="spacingAndGlyphs">59</text>
<text x="0.0" y="-31.2" textLength="7.80" lengthAdjust="spacingAndGlyphs">56</text>
<text x="24.0" y="-21.3" textLength="7.80" lengthAdjust="spacingAndGlyphs">57</text>
<text x="33.5" y="5.5" textLength="7.80" lengthAdjust="spacingAndGlyphs">58</text>
<text x="23.8" y="26.1" textLength="7.80" lengthAdjust="spacingAndGlyphs">57</text>
<text x="0.0" y="36.6" textLength="7.80" lengthAdjust="spacingAndGlyphs">59</text>
<text x="-23.9" y="26.0" textLength="7.80" lengthAdjust="spacingAndGlyphs">59</text>
<text x="-33.5" y="-0.3" textLength="7.80" lengthAdjust="spacingAndGlyphs">59</text>
<text x="-23.9" y="-21.2" textLength="7.80" lengthAdjust="spacingAndGlyphs">58</text>
<text x="0.0" y="-55.2" textLength="7.80" lengthAdjust="spacingAndGlyphs">50</text>
<text x="41.2" y="-38.4" textLength="7.80" lengthAdjust="spacingAndGlyphs">52</text>
<text x="57.5" y="-2.5" textLength="7.80" lengthAdjust="spacingAndGlyphs">65</text>
<text x="41.3" y="43.6" textLength="7.80" lengthAdjust="spacingAndGlyphs">58</text>
<text x="0.0" y="60.2" textLength="7.80" lengthAdjust="spacingAndGlyphs">57</text>
<text x="-40.8" y="43.5" textLength="7.80" lengthAdjust="spacingAndGlyphs">59</text>
<text x="-57.6" y="7.7" textLength="7.80" lengthAdjust="spacingAndGlyphs">57</text>
<text x="-40.9" y="-38.4" textLength="7.80" lengthAdjust="spacingAndGlyphs">50</text>
<text x="0.0" y="-74.9" textLength="7.80" lengthAdjust="spacingAndGlyphs" fill="#d8d8d8" stroke="#d8d8d8">43</text>
<text x="54.6" y="-52.6" textLength="7.80" lengthAdjust="spacingAndGlyphs">48</text>
<text x="77.3" y="8.7" textLength="7.80" lengthAdjust="spacingAndGlyphs">71</text>
<text x="54.8" y="57.4" textLength="7.80" lengthAdjust="spacingAndGlyphs">63</text>
<text x="0.0" y="79.6" textLength="7.80" lengthAdjust="spacingAndGlyphs">54</text>
<text x="-54.7" y="57.4" textLength="7.80" lengthAdjust="spacingAndGlyphs">57</text>
<text x="-77.2" y="-3.6" textLength="7.80" lengthAdjust="spacingAndGlyphs">55</text>
<text x="-54.6" y="-52.5" textLength="7.80" lengthAdjust="spacingAndGlyphs" fill="#d8d8d8" stroke="#d8d8d8">38</text>
</g>
<g font-family="'Liberation Sans', Arial, sans-serif" font-weight="bold" font-size="6.3" text-anchor="middle" fill="#0a0a18" stroke="#0a0a18" stroke-width="0.15">
<text x="0.0" y="-88.9">S</text>
<text x="0.0" y="92.7">I</text>
<text x="89.0" y="2.4">N</text>
<text x="-89.2" y="6.2">T</text>
</g>
<g font-family="'Liberation Sans', Arial, sans-serif" font-weight="bold" font-size="4.3" text-anchor="middle" fill="#303048">
<text x="64.6" y="-62.2">SN</text>
<text x="-64.0" y="-59.8">ST</text>
<text x="63.2" y="65.7">IN</text>
<text x="-61.9" y="65.5">IT</text>
</g>
<ellipse cx="-2.4" cy="6.0" rx="1.6" ry="3.2" transform="rotate(25 -2.4 6.0)" fill="#ff5a10"/>
<path d="M-26.7 -60.5h3.4M-26.0 -61.5l2 2M-24.0 -61.5l-2 2" stroke="#e0e0e0" stroke-width="0.95" fill="none"/>
<path d="M62.6 3.5h5.4M65.3 0.8v5.4" stroke="#0000ff" stroke-width="1.3" fill="none"/>
</g>
<g transform="translate(551 322.8)">
<g mask="url(#cmask)"><circle r="87.5" fill="#1144ff"/>
<path fill="#2277ff" fill-rule="evenodd" d="M-89.5 -89.5 -8.5 -89.5 -8 -78.5 -6.5 -72.5 -4 -69 0.5 -67.6 5 -68.8 6.5 -70.1 7.5 -72 8.8 -78 8 -89.5 89.5 -89.5 89.5 66.5 89.5 89.5 -89.5 89.5 -89.5 -89.5ZM-59 -62.5 -61.1 -60.5 -61.2 -59 -60.4 -57 -57.5 -54.6 -54.3 -54.5 -52.8 -55.5 -52 -57 -52.4 -60 -55.5 -62.5 -59 -62.5Z"/>
<path fill="#229988" fill-rule="evenodd" d="M-89.5 -89.5 -15.1 -89.5 -15.4 -79 -16.5 -75.5 -21.1 -71 -33.3 -63.5 -34.8 -61.5 -34.8 -59.5 -33.5 -58 -31 -56.7 -21.5 -54.8 -19.5 -54.8 -13.5 -57.1 -9 -57.7 -6 -57.1 0 -54.4 6 -57.2 9.5 -57.8 15 -57.1 20.5 -54.6 26.5 -54.6 31 -55.7 33.4 -58 33.7 -60 33 -62.4 28 -70 25.5 -72.2 19 -74.9 16.6 -77 15.6 -80.5 14.3 -89.5 89.5 -89.5 89.5 8 89.5 89.5 -89.5 89.5 -89.5 -89.5ZM-65 -72.5 -69 -71.4 -71.6 -68.5 -72.2 -64.5 -70.7 -60 -67.4 -56 -61.7 -52 -56.5 -50.1 -52 -50.1 -48.5 -52 -45.6 -55.5 -44.2 -59 -44.8 -61.5 -48.1 -65 -55 -69.8 -60 -71.9 -65 -72.5Z"/>
<path fill="#11aa11" fill-rule="evenodd" d="M-59.5 -89.5 -21.4 -89.5 -23 -80 -27 -74.3 -31 -70.9 -35.5 -68.7 -39.5 -68.4 -43.4 -69.5 -47.7 -72.5 -53.2 -78.5 -57.3 -84.5 -59.5 -89.5ZM22.1 -89.5 89.5 -89.5 89.5 89.5 -57.5 89.5 -89.5 89.5 -89.5 -54.8 -82 -53.4 -51 -45 -48.5 -45.6 -40.5 -50.8 -36.5 -51.8 -21 -50 -13 -51.9 -9.5 -52.1 0 -50.1 7.5 -52 11 -52.3 24.5 -49.2 29 -49.2 33.4 -50 37.5 -52 39.7 -54.5 40.5 -58.5 39.7 -63.5 34.5 -79 33 -82 30 -84.8 24 -87 22.1 -89.5Z"/>
<path fill="#22cc11" fill-rule="evenodd" d="M-46.2 -89.5 -29.5 -89.5 -30.9 -81 -32.2 -77.5 -34 -75.2 -36 -74.2 -38.5 -74.4 -40.5 -75.5 -43.5 -80 -46.2 -89.5ZM52.2 -89.5 89.5 -89.5 89.5 89.5 -68.5 89.5 -89.5 89.5 -89.5 -40.9 -79.5 -40.5 -72 -43.3 -67 -44 -50 -41.2 -36 -46.1 -21 -45.7 -10.5 -47.2 0 -46.2 11.5 -47.2 23 -44.1 28 -43.4 33.5 -43.7 38.8 -45 48 -49.3 55 -51.4 57.2 -54 56.7 -57.5 51.4 -64.5 49.7 -69.5 49.7 -73.5 51.7 -84 52.2 -89.5Z"/>
<path fill="#44dd00" fill-rule="evenodd" d="M88.9 -55.5 89.5 -55.6 89.5 89.5 -89.5 89.5 -89.5 78 -89.5 -33.4 -85 -32.6 -78.5 -29.8 -76.3 -29.5 -74.3 -30.5 -69.5 -36.9 -65 -39 -60.5 -39.1 -49 -37.8 -36 -40.3 -22 -39.9 -8 -41.8 10.5 -41.4 26 -35.8 30 -35.2 34 -35.3 39.5 -36.5 54 -41.3 58 -41.8 65 -41.7 68 -42.4 70.9 -44 81 -52.1 85 -54.2 88.9 -55.5ZM-44.5 30.5 -45.6 33.5 -44.9 38 -43 42.1 -39.8 46 -34.5 50.2 -28.5 53.5 -23.5 55 -19.5 54.8 -18.1 53.5 -18.1 52 -19.5 49.5 -22.1 46.5 -40.5 31.4 -43 30.2 -44.5 30.5Z"/>
<path fill="#70e000" fill-rule="evenodd" d="M-62.6 -34.5 -58.5 -34.7 -38.5 -32.8 -34.5 -31.5 -26.5 -27.7 -23.5 -27.1 -20 -27.8 -11.7 -32.5 -8 -33.9 -3 -34.7 3 -34.5 7.5 -33.4 11 -31.4 14.1 -28 15.8 -24 16 -20.5 14.5 -16.8 11.5 -13.8 7 -11.2 1.5 -9.4 -4 -8.5 -9.5 -8.6 -19 -9.7 -23 -9.2 -44 -0.7 -48 2.2 -51.5 6.3 -55.5 14 -56.8 20 -54.1 40 -52.2 45 -49.5 49.1 -45.5 53.1 -38.5 58.7 -29.8 66 -24.2 72.5 -18.8 81.5 -16.2 89.5 -89.5 89.5 -89.5 -28.7 -79 -26.9 -75.5 -27 -72.5 -28.3 -66.5 -33 -62.6 -34.5ZM72.6 -32 77 -31.9 85 -30.1 89.5 -29.8 89.5 89.5 43.4 89.5 43.4 87 42.5 73 43.4 68 45.4 63 53.9 49.5 73.4 24 76.7 18 78.6 12.5 79.3 8 79.2 3.5 78.3 -1 76.6 -5.5 72.6 -12 62.8 -22 60.9 -25.5 61.5 -28 63.5 -29.7 67 -31 72.6 -32ZM-22.7 0 -19 -0.3 -15 0.6 2 9.1 7 10.4 19 11.8 22.5 13.2 25.5 15.2 27.6 17.5 29.2 20.5 29.8 23.5 29.4 26.5 27.9 29.5 25.7 32 22.7 34 19 35.5 14 36.6 7.5 37.3 -6.5 36.8 -16.5 34.4 -20.5 32.5 -24.1 30 -27.5 26.5 -30.1 22.5 -31.6 18.5 -32 14 -31 9.1 -29 4.8 -26 1.5 -22.7 0Z"/>
<path fill="#b0f000" fill-rule="evenodd" d="M-61.3 -29.5 -56.5 -29 -51.2 -27 -48.3 -24.5 -47.6 -22 -49.2 -18 -56 -9.6 -57.8 -6.5 -59.7 4.5 -62.3 15 -62.5 18 -60.3 30.5 -61.2 43 -60.6 47.5 -59.2 52.5 -57.8 55 -45.9 65.5 -41.6 70.5 -39.4 75 -38.3 80.5 -37.8 89.5 -51 89.5 -89.5 89.5 -89.5 -24.7 -79 -23.9 -75.5 -24.1 -65.5 -28.6 -61.3 -29.5Z"/>
<path fill="#ffff00" fill-rule="evenodd" d="M-66.7 -22.5 -65 -22.5 -63.3 -21.5 -62.5 -20 -62.6 -18 -64.2 -15 -69.5 -10 -70.4 -8 -69.7 -6.5 -66.3 -3 -64.7 1.5 -65.1 8.5 -67.9 17 -64.7 25 -64.3 31.5 -65.3 36 -68.2 43 -72.2 74.5 -75.7 89.5 -77 89.5 -89.5 89.5 -89.5 -20.5 -76 -19.7 -66.7 -22.5Z"/>
<path fill="#ffcc00" fill-rule="evenodd" d="M-89.5 -14 -85.3 -12.5 -81.9 -7 -72.5 -1.7 -70.4 0.5 -69.1 3.5 -69.1 8.5 -71.3 17.5 -68.2 25.5 -68.1 30.5 -69.9 36.5 -75.7 48 -78.5 51.6 -82 54.9 -85.5 57.2 -89.5 58.8 -89.5 -14Z"/>
<path fill="#ffaa00" fill-rule="evenodd" d="M-89.5 -1.5 -89.5 -2 -86.2 0.5 -81.5 5.9 -80 6.6 -76 6.9 -74.8 8 -74.3 9.5 -74.7 18.5 -72.3 26 -72.3 30 -73.7 34 -76.7 39.5 -78.5 41.3 -81.5 43.1 -89.5 46.1 -89.5 26.2 -84.5 22.8 -82.8 20 -84.5 17.7 -89.5 15.3 -89.5 -1.5Z"/></g>
<g fill="none" stroke="#268072" stroke-width="0.7" stroke-opacity="0.85">
<circle r="19.22"/>
<circle r="48.06"/>
<circle r="67.28"/>
<line x1="7.36" y1="-17.76" x2="33.10" y2="-79.92"/>
<line x1="17.76" y1="-7.36" x2="79.92" y2="-33.10"/>
<line x1="17.76" y1="7.36" x2="79.92" y2="33.10"/>
<line x1="7.36" y1="17.76" x2="33.10" y2="79.92"/>
<line x1="-7.36" y1="17.76" x2="-33.10" y2="79.92"/>
<line x1="-17.76" y1="7.36" x2="-79.92" y2="33.10"/>
<line x1="-17.76" y1="-7.36" x2="-79.92" y2="-33.10"/>
<line x1="-7.36" y1="-17.76" x2="-33.10" y2="-79.92"/>
</g>
<circle r="86.10" fill="none" stroke="#4a6a80" stroke-width="1" stroke-dasharray="1 1.1"/>
<g font-family="'Liberation Sans', Arial, sans-serif" font-weight="bold" font-size="7.3" text-anchor="middle" fill="#000" stroke="#000" stroke-width="0.15">
<text x="0.3" y="2.6" textLength="7.80" lengthAdjust="spacingAndGlyphs">55</text>
<text x="0.0" y="-31.2" textLength="7.80" lengthAdjust="spacingAndGlyphs">54</text>
<text x="-23.9" y="-21.2" textLength="7.80" lengthAdjust="spacingAndGlyphs">55</text>
<text x="-33.5" y="-0.3" textLength="7.80" lengthAdjust="spacingAndGlyphs">55</text>
<text x="-23.9" y="26.0" textLength="7.80" lengthAdjust="spacingAndGlyphs">55</text>
<text x="0.0" y="36.6" textLength="7.80" lengthAdjust="spacingAndGlyphs">55</text>
<text x="23.8" y="26.1" textLength="7.80" lengthAdjust="spacingAndGlyphs">55</text>
<text x="33.5" y="5.5" textLength="7.80" lengthAdjust="spacingAndGlyphs">54</text>
<text x="24.0" y="-21.3" textLength="7.80" lengthAdjust="spacingAndGlyphs">54</text>
<text x="0.0" y="-55.2" textLength="7.80" lengthAdjust="spacingAndGlyphs">47</text>
<text x="-40.9" y="-38.4" textLength="7.80" lengthAdjust="spacingAndGlyphs">52</text>
<text x="-57.6" y="7.7" textLength="7.80" lengthAdjust="spacingAndGlyphs">57</text>
<text x="-40.8" y="43.5" textLength="7.80" lengthAdjust="spacingAndGlyphs">53</text>
<text x="0.0" y="60.2" textLength="7.80" lengthAdjust="spacingAndGlyphs">53</text>
<text x="41.3" y="43.6" textLength="7.80" lengthAdjust="spacingAndGlyphs">54</text>
<text x="57.5" y="-2.5" textLength="7.80" lengthAdjust="spacingAndGlyphs">54</text>
<text x="41.2" y="-38.4" textLength="7.80" lengthAdjust="spacingAndGlyphs">51</text>
<text x="0.0" y="-74.9" textLength="7.80" lengthAdjust="spacingAndGlyphs">45</text>
<text x="-54.6" y="-52.5" textLength="7.80" lengthAdjust="spacingAndGlyphs">48</text>
<text x="-77.2" y="-3.6" textLength="7.80" lengthAdjust="spacingAndGlyphs">63</text>
<text x="-54.7" y="57.4" textLength="7.80" lengthAdjust="spacingAndGlyphs">58</text>
<text x="0.0" y="79.6" textLength="7.80" lengthAdjust="spacingAndGlyphs">54</text>
<text x="54.8" y="57.4" textLength="7.80" lengthAdjust="spacingAndGlyphs">55</text>
<text x="77.3" y="8.7" textLength="7.80" lengthAdjust="spacingAndGlyphs">55</text>
<text x="54.6" y="-52.6" textLength="7.80" lengthAdjust="spacingAndGlyphs">60</text>
</g>
<g font-family="'Liberation Sans', Arial, sans-serif" font-weight="bold" font-size="6.3" text-anchor="middle" fill="#0a0a18" stroke="#0a0a18" stroke-width="0.15">
<text x="0.0" y="-88.9">S</text>
<text x="0.0" y="92.7">I</text>
<text x="89.0" y="2.4">T</text>
<text x="-89.2" y="6.2">N</text>
</g>
<g font-family="'Liberation Sans', Arial, sans-serif" font-weight="bold" font-size="4.3" text-anchor="middle" fill="#303048">
<text x="64.6" y="-62.2">ST</text>
<text x="-64.0" y="-59.8">SN</text>
<text x="63.2" y="65.7">IT</text>
<text x="-61.9" y="65.5">IN</text>
</g>
<path d="M-22.9 -61.3h3.4M-22.2 -62.3l2 2M-20.2 -62.3l-2 2" stroke="#e0e0e0" stroke-width="0.95" fill="none"/>
<path d="M-67.7 -2.2h5.4M-65.0 -4.9v5.4" stroke="#0000ff" stroke-width="1.3" fill="none"/>
</g>
<g class="st" font-family="'Liberation Sans', 'DejaVu Sans', sans-serif" fill="#383840">
<rect x="258.2" y="84.8" width="168.4" height="74.9" fill="none" stroke="#bcbcbc" stroke-width="0.9" rx="1"/>
<rect x="260.5" y="82" width="30.5" height="5" fill="#fff"/>
<text x="261.6" y="87.3" font-size="6.3" textLength="28.2" lengthAdjust="spacingAndGlyphs">Pachymetry</text>
<text x="259.6" y="95.8" font-size="6.3" textLength="100.6" lengthAdjust="spacingAndGlyphs">Pachymetry statistics within central 5mm</text>
<text x="313.1" y="104.3" text-anchor="middle" font-size="6.3" textLength="7.2" lengthAdjust="spacingAndGlyphs">OD</text>
<text x="332.2" y="104.3" text-anchor="middle" font-size="6.3" textLength="7.2" lengthAdjust="spacingAndGlyphs">OS</text>
<text x="388.3" y="104.3" text-anchor="middle" font-size="6.3" textLength="7.2" lengthAdjust="spacingAndGlyphs">OD</text>
<text x="407.3" y="104.3" text-anchor="middle" font-size="6.3" textLength="7.2" lengthAdjust="spacingAndGlyphs">OS</text>
<text x="302.6" y="115.7" text-anchor="end" font-size="6.3" textLength="38.6" lengthAdjust="spacingAndGlyphs">SN-IT(2-5mm):</text>
<text x="377.5" y="115.7" text-anchor="end" font-size="6.3" textLength="31.0" lengthAdjust="spacingAndGlyphs">S-I(2-5mm):</text>
<rect x="304.9" y="108.7" width="16.1" height="9.3" fill="#fff"/><path d="M305.4 117.5H320.6V109.2" fill="none" stroke="#e2e2e2" stroke-width="0.9"/><path d="M305.4 118.0V109.2H321.0" fill="none" stroke="#7c7c7c" stroke-width="1"/><text x="307.2" y="115.7" font-size="6.3">39</text>
<rect x="324.2" y="108.7" width="16.3" height="9.3" fill="#fff"/><path d="M324.7 117.5H340.1V109.2" fill="none" stroke="#e2e2e2" stroke-width="0.9"/><path d="M324.7 118.0V109.2H340.5" fill="none" stroke="#7c7c7c" stroke-width="1"/><text x="326.5" y="115.7" font-size="6.3">42</text>
<rect x="380.0" y="108.7" width="16.0" height="9.3" fill="#fff"/><path d="M380.5 117.5H395.6V109.2" fill="none" stroke="#e2e2e2" stroke-width="0.9"/><path d="M380.5 118.0V109.2H396.0" fill="none" stroke="#7c7c7c" stroke-width="1"/><text x="382.3" y="115.7" font-size="6.3">36</text>
<rect x="399.2" y="108.7" width="16.4" height="9.3" fill="#fff"/><path d="M399.7 117.5H415.1V109.2" fill="none" stroke="#e2e2e2" stroke-width="0.9"/><path d="M399.7 118.0V109.2H415.6" fill="none" stroke="#7c7c7c" stroke-width="1"/><text x="401.5" y="115.7" font-size="6.3">43</text>
<text x="302.6" y="130.4" text-anchor="end" font-size="6.3" textLength="10.6" lengthAdjust="spacingAndGlyphs">Min:</text>
<text x="377.5" y="130.4" text-anchor="end" font-size="6.3" textLength="26.7" lengthAdjust="spacingAndGlyphs">Location Y:</text>
<rect x="304.9" y="123.4" width="16.1" height="9.3" fill="#fff"/><path d="M305.4 132.3H320.6V123.9" fill="none" stroke="#e2e2e2" stroke-width="0.9"/><path d="M305.4 132.7V123.9H321.0" fill="none" stroke="#7c7c7c" stroke-width="1"/><text x="307.2" y="130.4" font-size="6.3">508</text>
<rect x="324.2" y="123.4" width="16.3" height="9.3" fill="#fff"/><path d="M324.7 132.3H340.1V123.9" fill="none" stroke="#e2e2e2" stroke-width="0.9"/><path d="M324.7 132.7V123.9H340.5" fill="none" stroke="#7c7c7c" stroke-width="1"/><text x="326.5" y="130.4" font-size="6.3">565</text>
<rect x="380.0" y="123.4" width="16.0" height="9.3" fill="#fff"/><path d="M380.5 132.3H395.6V123.9" fill="none" stroke="#e2e2e2" stroke-width="0.9"/><path d="M380.5 132.7V123.9H396.0" fill="none" stroke="#7c7c7c" stroke-width="1"/><text x="382.3" y="130.4" font-size="6.3">-305</text>
<rect x="399.2" y="123.4" width="16.4" height="9.3" fill="#fff"/><path d="M399.7 132.3H415.1V123.9" fill="none" stroke="#e2e2e2" stroke-width="0.9"/><path d="M399.7 132.7V123.9H415.6" fill="none" stroke="#7c7c7c" stroke-width="1"/><text x="401.5" y="130.4" font-size="6.3">-346</text>
<text x="302.6" y="144.4" text-anchor="end" font-size="6.3" textLength="30.7" lengthAdjust="spacingAndGlyphs">Min-Median:</text>
<text x="377.5" y="144.4" text-anchor="end" font-size="6.3" textLength="22.7" lengthAdjust="spacingAndGlyphs">Min-Max:</text>
<rect x="304.9" y="137.4" width="16.1" height="9.3" fill="#fff"/><path d="M305.4 146.3H320.6V137.9" fill="none" stroke="#e2e2e2" stroke-width="0.9"/><path d="M305.4 146.7V137.9H321.0" fill="none" stroke="#7c7c7c" stroke-width="1"/><text x="307.2" y="144.4" font-size="6.3">-28</text>
<rect x="324.2" y="137.4" width="16.3" height="9.3" fill="#fff"/><path d="M324.7 146.3H340.1V137.9" fill="none" stroke="#e2e2e2" stroke-width="0.9"/><path d="M324.7 146.7V137.9H340.5" fill="none" stroke="#7c7c7c" stroke-width="1"/><text x="326.5" y="144.4" font-size="6.3">-28</text>
<rect x="380.0" y="137.4" width="16.0" height="9.3" fill="#fff"/><path d="M380.5 146.3H395.6V137.9" fill="none" stroke="#e2e2e2" stroke-width="0.9"/><path d="M380.5 146.7V137.9H396.0" fill="none" stroke="#7c7c7c" stroke-width="1"/><text x="382.3" y="144.4" font-size="6.3">-72</text>
<rect x="399.2" y="137.4" width="16.4" height="9.3" fill="#fff"/><path d="M399.7 146.3H415.1V137.9" fill="none" stroke="#e2e2e2" stroke-width="0.9"/><path d="M399.7 146.7V137.9H415.6" fill="none" stroke="#7c7c7c" stroke-width="1"/><text x="401.5" y="144.4" font-size="6.3">-85</text>
<text x="269.5" y="155.3" font-size="6.3" textLength="69.0" lengthAdjust="spacingAndGlyphs">Min thickness indicated as *</text>
<rect x="277" y="249.7" width="151.3" height="75.0" fill="none" stroke="#bcbcbc" stroke-width="0.9" rx="1"/>
<rect x="279.3" y="247" width="27.8" height="5" fill="#fff"/>
<text x="280.4" y="251.8" font-size="6.3" textLength="25.6" lengthAdjust="spacingAndGlyphs">Epithelium</text>
<text x="278.7" y="260.4" font-size="6.3" textLength="99.6" lengthAdjust="spacingAndGlyphs">Epithelium statistics within central 7 mm</text>
<text x="328.2" y="269.1" text-anchor="middle" font-size="6.3" textLength="7.2" lengthAdjust="spacingAndGlyphs">OD</text>
<text x="347.2" y="269.1" text-anchor="middle" font-size="6.3" textLength="7.2" lengthAdjust="spacingAndGlyphs">OS</text>
<text x="399.0" y="269.1" text-anchor="middle" font-size="6.3" textLength="7.2" lengthAdjust="spacingAndGlyphs">OD</text>
<text x="418.3" y="269.1" text-anchor="middle" font-size="6.3" textLength="7.2" lengthAdjust="spacingAndGlyphs">OS</text>
<text x="317.2" y="280.2" text-anchor="end" font-size="6.3" textLength="28.7" lengthAdjust="spacingAndGlyphs">S (2-7mm):</text>
<text x="388.5" y="280.2" text-anchor="end" font-size="6.3" textLength="28.0" lengthAdjust="spacingAndGlyphs">I (2-7mm):</text>
<rect x="319.8" y="273.1" width="16.6" height="9.6" fill="#fff"/><path d="M320.3 282.3H336.0V273.6" fill="none" stroke="#e2e2e2" stroke-width="0.9"/><path d="M320.3 282.7V273.6H336.4" fill="none" stroke="#7c7c7c" stroke-width="1"/><text x="322.1" y="280.2" font-size="6.3">52</text>
<rect x="339.0" y="273.1" width="17.1" height="9.6" fill="#fff"/><path d="M339.5 282.3H355.7V273.6" fill="none" stroke="#e2e2e2" stroke-width="0.9"/><path d="M339.5 282.7V273.6H356.1" fill="none" stroke="#7c7c7c" stroke-width="1"/><text x="341.3" y="280.2" font-size="6.3">50</text>
<rect x="390.7" y="273.1" width="16.5" height="9.6" fill="#fff"/><path d="M391.2 282.3H406.8V273.6" fill="none" stroke="#e2e2e2" stroke-width="0.9"/><path d="M391.2 282.7V273.6H407.2" fill="none" stroke="#7c7c7c" stroke-width="1"/><text x="393.0" y="280.2" font-size="6.3">58</text>
<rect x="410.2" y="273.1" width="16.3" height="9.6" fill="#fff"/><path d="M410.7 282.3H426.1V273.6" fill="none" stroke="#e2e2e2" stroke-width="0.9"/><path d="M410.7 282.7V273.6H426.5" fill="none" stroke="#7c7c7c" stroke-width="1"/><text x="412.5" y="280.2" font-size="6.3">54</text>
<text x="317.2" y="294.3" text-anchor="end" font-size="6.3" textLength="10.4" lengthAdjust="spacingAndGlyphs">Min:</text>
<text x="388.5" y="294.3" text-anchor="end" font-size="6.3" textLength="12.0" lengthAdjust="spacingAndGlyphs">Max:</text>
<rect x="319.8" y="287.2" width="16.6" height="9.6" fill="#fff"/><path d="M320.3 296.4H336.0V287.7" fill="none" stroke="#e2e2e2" stroke-width="0.9"/><path d="M320.3 296.8V287.7H336.4" fill="none" stroke="#7c7c7c" stroke-width="1"/><text x="322.1" y="294.3" font-size="6.3">29</text>
<rect x="339.0" y="287.2" width="17.1" height="9.6" fill="#fff"/><path d="M339.5 296.4H355.7V287.7" fill="none" stroke="#e2e2e2" stroke-width="0.9"/><path d="M339.5 296.8V287.7H356.1" fill="none" stroke="#7c7c7c" stroke-width="1"/><text x="341.3" y="294.3" font-size="6.3">44</text>
<rect x="390.7" y="287.2" width="16.5" height="9.6" fill="#fff"/><path d="M391.2 296.4H406.8V287.7" fill="none" stroke="#e2e2e2" stroke-width="0.9"/><path d="M391.2 296.8V287.7H407.2" fill="none" stroke="#7c7c7c" stroke-width="1"/><text x="393.0" y="294.3" font-size="6.3">74</text>
<rect x="410.2" y="287.2" width="16.3" height="9.6" fill="#fff"/><path d="M410.7 296.4H426.1V287.7" fill="none" stroke="#e2e2e2" stroke-width="0.9"/><path d="M410.7 296.8V287.7H426.5" fill="none" stroke="#7c7c7c" stroke-width="1"/><text x="412.5" y="294.3" font-size="6.3">59</text>
<text x="317.2" y="308.1" text-anchor="end" font-size="6.3" textLength="20.6" lengthAdjust="spacingAndGlyphs">Std Dev:</text>
<text x="388.5" y="308.1" text-anchor="end" font-size="6.3" textLength="22.9" lengthAdjust="spacingAndGlyphs">Min-Max:</text>
<rect x="319.8" y="301.0" width="16.6" height="9.6" fill="#fff"/><path d="M320.3 310.2H336.0V301.5" fill="none" stroke="#e2e2e2" stroke-width="0.9"/><path d="M320.3 310.6V301.5H336.4" fill="none" stroke="#7c7c7c" stroke-width="1"/><text x="322.1" y="308.1" font-size="6.3">5.1</text>
<rect x="339.0" y="301.0" width="17.1" height="9.6" fill="#fff"/><path d="M339.5 310.2H355.7V301.5" fill="none" stroke="#e2e2e2" stroke-width="0.9"/><path d="M339.5 310.6V301.5H356.1" fill="none" stroke="#7c7c7c" stroke-width="1"/><text x="341.3" y="308.1" font-size="6.3">2.6</text>
<rect x="390.7" y="301.0" width="16.5" height="9.6" fill="#fff"/><path d="M391.2 310.2H406.8V301.5" fill="none" stroke="#e2e2e2" stroke-width="0.9"/><path d="M391.2 310.6V301.5H407.2" fill="none" stroke="#7c7c7c" stroke-width="1"/><text x="393.0" y="308.1" font-size="6.3">-45</text>
<rect x="410.2" y="301.0" width="16.3" height="9.6" fill="#fff"/><path d="M410.7 310.2H426.1V301.5" fill="none" stroke="#e2e2e2" stroke-width="0.9"/><path d="M410.7 310.6V301.5H426.5" fill="none" stroke="#7c7c7c" stroke-width="1"/><text x="412.5" y="308.1" font-size="6.3">-15</text>
<text x="278.7" y="317.9" font-size="6.3" textLength="87.0" lengthAdjust="spacingAndGlyphs">Min/Max thickness indicated as */+</text>
</g>
<rect x="10.3" y="426.8" width="54.3" height="11" fill="#e1e1e1" stroke="#c8b880" stroke-width="0.7"/>
<text x="37.4" y="434.8" font-family="'Liberation Sans', Arial, sans-serif" font-size="6.6" font-weight="bold" text-anchor="middle" fill="#202020">Print</text>
<rect x="493.6" y="423.3" width="4.4" height="4.4" fill="#fff" stroke="#707070" stroke-width="0.6"/>
<text x="501" y="427.6" font-family="'Liberation Sans', Arial, sans-serif" font-size="5.8" fill="#303030" textLength="45.5" lengthAdjust="spacingAndGlyphs">Normalize Epi Map</text>
<rect x="583.4" y="423.3" width="4.4" height="4.4" fill="#fff" stroke="#707070" stroke-width="0.6"/>
<text x="591.4" y="427.8" font-family="'Liberation Sans', Arial, sans-serif" font-size="6.4" font-weight="bold" fill="#202020" textLength="33.8" lengthAdjust="spacingAndGlyphs">Stroma Map</text>
<defs><linearGradient id="lg" x1="0" y1="0" x2="1" y2="0"><stop offset="0" stop-color="#d42a0c"/><stop offset="0.55" stop-color="#ea7a18"/><stop offset="1" stop-color="#f0c030"/></linearGradient></defs>
<g fill="none" stroke-width="1.5"><path d="M646.9 423.6 A8.1 8.1 0 0 1 657.6 426.9" stroke="#eeac22"/><path d="M642.7 430.6 A8.1 8.1 0 0 0 657.6 435.3" stroke="url(#lg)"/></g>
<text x="647" y="433.8" font-family="'Liberation Sans', Arial, sans-serif" font-size="7.6" fill="#6e7688" textLength="32" lengthAdjust="spacingAndGlyphs">OPTOVUE</text>
</svg></body></html>
